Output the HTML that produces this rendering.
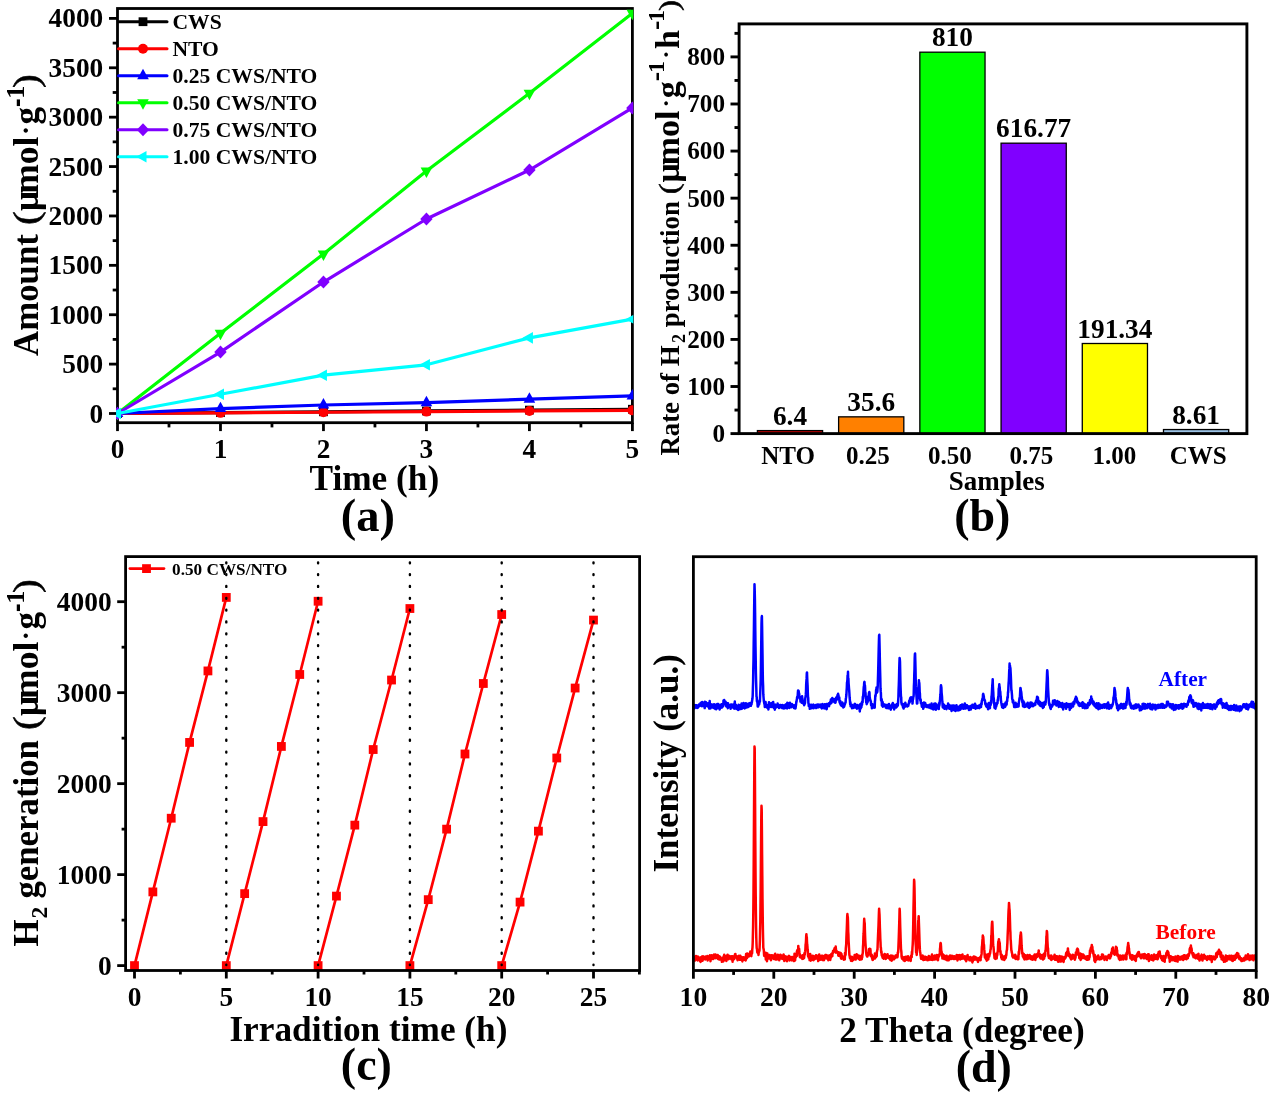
<!DOCTYPE html>
<html><head><meta charset="utf-8"><title>Figure</title>
<style>
html,body{margin:0;padding:0;background:#fff;}
svg{display:block;}
text{font-family:"Liberation Serif",serif;font-weight:bold;}
</style></head>
<body>
<svg width="1271" height="1098" viewBox="0 0 1271 1098">
<rect width="1271" height="1098" fill="#fff"/>
<clipPath id="ca"><rect x="116.1" y="7.5" width="517.2" height="416.2"/></clipPath>
<rect x="117.5" y="8.5" width="514.9" height="414.2" fill="none" stroke="#000" stroke-width="2.8"/>
<line x1="109" y1="413.5" x2="117.5" y2="413.5" stroke="#000" stroke-width="2.8" />
<text x="103.2" y="422.5" font-size="27.3" text-anchor="end" fill="#000" >0</text>
<line x1="112.7" y1="388.81" x2="117.5" y2="388.81" stroke="#000" stroke-width="2.8" />
<line x1="109" y1="364.11" x2="117.5" y2="364.11" stroke="#000" stroke-width="2.8" />
<text x="103.2" y="373.11" font-size="27.3" text-anchor="end" fill="#000" >500</text>
<line x1="112.7" y1="339.42" x2="117.5" y2="339.42" stroke="#000" stroke-width="2.8" />
<line x1="109" y1="314.73" x2="117.5" y2="314.73" stroke="#000" stroke-width="2.8" />
<text x="103.2" y="323.73" font-size="27.3" text-anchor="end" fill="#000" >1000</text>
<line x1="112.7" y1="290.03" x2="117.5" y2="290.03" stroke="#000" stroke-width="2.8" />
<line x1="109" y1="265.34" x2="117.5" y2="265.34" stroke="#000" stroke-width="2.8" />
<text x="103.2" y="274.34" font-size="27.3" text-anchor="end" fill="#000" >1500</text>
<line x1="112.7" y1="240.64" x2="117.5" y2="240.64" stroke="#000" stroke-width="2.8" />
<line x1="109" y1="215.95" x2="117.5" y2="215.95" stroke="#000" stroke-width="2.8" />
<text x="103.2" y="224.95" font-size="27.3" text-anchor="end" fill="#000" >2000</text>
<line x1="112.7" y1="191.26" x2="117.5" y2="191.26" stroke="#000" stroke-width="2.8" />
<line x1="109" y1="166.56" x2="117.5" y2="166.56" stroke="#000" stroke-width="2.8" />
<text x="103.2" y="175.56" font-size="27.3" text-anchor="end" fill="#000" >2500</text>
<line x1="112.7" y1="141.87" x2="117.5" y2="141.87" stroke="#000" stroke-width="2.8" />
<line x1="109" y1="117.18" x2="117.5" y2="117.18" stroke="#000" stroke-width="2.8" />
<text x="103.2" y="126.18" font-size="27.3" text-anchor="end" fill="#000" >3000</text>
<line x1="112.7" y1="92.48" x2="117.5" y2="92.48" stroke="#000" stroke-width="2.8" />
<line x1="109" y1="67.79" x2="117.5" y2="67.79" stroke="#000" stroke-width="2.8" />
<text x="103.2" y="76.79" font-size="27.3" text-anchor="end" fill="#000" >3500</text>
<line x1="112.7" y1="43.09" x2="117.5" y2="43.09" stroke="#000" stroke-width="2.8" />
<line x1="109" y1="18.4" x2="117.5" y2="18.4" stroke="#000" stroke-width="2.8" />
<text x="103.2" y="27.4" font-size="27.3" text-anchor="end" fill="#000" >4000</text>
<line x1="117.5" y1="422.7" x2="117.5" y2="431.1" stroke="#000" stroke-width="2.8" />
<text x="117.5" y="458.3" font-size="27.3" text-anchor="middle" fill="#000" >0</text>
<line x1="168.99" y1="422.7" x2="168.99" y2="427.4" stroke="#000" stroke-width="2.8" />
<line x1="220.48" y1="422.7" x2="220.48" y2="431.1" stroke="#000" stroke-width="2.8" />
<text x="220.48" y="458.3" font-size="27.3" text-anchor="middle" fill="#000" >1</text>
<line x1="271.97" y1="422.7" x2="271.97" y2="427.4" stroke="#000" stroke-width="2.8" />
<line x1="323.46" y1="422.7" x2="323.46" y2="431.1" stroke="#000" stroke-width="2.8" />
<text x="323.46" y="458.3" font-size="27.3" text-anchor="middle" fill="#000" >2</text>
<line x1="374.95" y1="422.7" x2="374.95" y2="427.4" stroke="#000" stroke-width="2.8" />
<line x1="426.44" y1="422.7" x2="426.44" y2="431.1" stroke="#000" stroke-width="2.8" />
<text x="426.44" y="458.3" font-size="27.3" text-anchor="middle" fill="#000" >3</text>
<line x1="477.93" y1="422.7" x2="477.93" y2="427.4" stroke="#000" stroke-width="2.8" />
<line x1="529.42" y1="422.7" x2="529.42" y2="431.1" stroke="#000" stroke-width="2.8" />
<text x="529.42" y="458.3" font-size="27.3" text-anchor="middle" fill="#000" >4</text>
<line x1="580.91" y1="422.7" x2="580.91" y2="427.4" stroke="#000" stroke-width="2.8" />
<line x1="632.4" y1="422.7" x2="632.4" y2="431.1" stroke="#000" stroke-width="2.8" />
<text x="632.4" y="458.3" font-size="27.3" text-anchor="middle" fill="#000" >5</text>
<g clip-path="url(#ca)">
<polyline points="117.5,413.5 220.48,412.65 323.46,411.8 426.44,410.95 529.42,410.1 632.4,409.25" fill="none" stroke="#000000" stroke-width="3.2" stroke-linejoin="round"/>
<rect x="113.1" y="409.1" width="8.8" height="8.8" fill="#000000"/>
<rect x="216.08" y="408.25" width="8.8" height="8.8" fill="#000000"/>
<rect x="319.06" y="407.4" width="8.8" height="8.8" fill="#000000"/>
<rect x="422.04" y="406.55" width="8.8" height="8.8" fill="#000000"/>
<rect x="525.02" y="405.7" width="8.8" height="8.8" fill="#000000"/>
<rect x="628" y="404.85" width="8.8" height="8.8" fill="#000000"/>
<polyline points="117.5,413.5 220.48,412.87 323.46,412.24 426.44,411.6 529.42,410.97 632.4,410.34" fill="none" stroke="#ff0000" stroke-width="3.2" stroke-linejoin="round"/>
<circle cx="117.5" cy="413.5" r="5" fill="#ff0000"/>
<circle cx="220.48" cy="412.87" r="5" fill="#ff0000"/>
<circle cx="323.46" cy="412.24" r="5" fill="#ff0000"/>
<circle cx="426.44" cy="411.6" r="5" fill="#ff0000"/>
<circle cx="529.42" cy="410.97" r="5" fill="#ff0000"/>
<circle cx="632.4" cy="410.34" r="5" fill="#ff0000"/>
<polyline points="117.5,413.5 220.48,408.56 323.46,405.01 426.44,402.63 529.42,399.18 632.4,395.92" fill="none" stroke="#0000ff" stroke-width="3.2" stroke-linejoin="round"/>
<polygon points="117.5,406.6 111.7,417 123.3,417" fill="#0000ff"/>
<polygon points="220.48,401.66 214.68,412.06 226.28,412.06" fill="#0000ff"/>
<polygon points="323.46,398.11 317.66,408.51 329.26,408.51" fill="#0000ff"/>
<polygon points="426.44,395.73 420.64,406.13 432.24,406.13" fill="#0000ff"/>
<polygon points="529.42,392.28 523.62,402.68 535.22,402.68" fill="#0000ff"/>
<polygon points="632.4,389.02 626.6,399.42 638.2,399.42" fill="#0000ff"/>
<polyline points="117.5,413.5 220.48,333.29 323.46,253.98 426.44,171.01 529.42,93.27 632.4,13.26" fill="none" stroke="#00ff00" stroke-width="3.2" stroke-linejoin="round"/>
<polygon points="117.5,420.4 111.7,410 123.3,410" fill="#00ff00"/>
<polygon points="220.48,340.19 214.68,329.79 226.28,329.79" fill="#00ff00"/>
<polygon points="323.46,260.88 317.66,250.48 329.26,250.48" fill="#00ff00"/>
<polygon points="426.44,177.91 420.64,167.51 432.24,167.51" fill="#00ff00"/>
<polygon points="529.42,100.17 523.62,89.77 535.22,89.77" fill="#00ff00"/>
<polygon points="632.4,20.16 626.6,9.76 638.2,9.76" fill="#00ff00"/>
<polyline points="117.5,413.5 220.48,352.06 323.46,282.03 426.44,219.01 529.42,170.02 632.4,107.99" fill="none" stroke="#8000ff" stroke-width="3.2" stroke-linejoin="round"/>
<polygon points="117.5,407 123.7,413.5 117.5,420 111.3,413.5" fill="#8000ff"/>
<polygon points="220.48,345.56 226.68,352.06 220.48,358.56 214.28,352.06" fill="#8000ff"/>
<polygon points="323.46,275.53 329.66,282.03 323.46,288.53 317.26,282.03" fill="#8000ff"/>
<polygon points="426.44,212.51 432.64,219.01 426.44,225.51 420.24,219.01" fill="#8000ff"/>
<polygon points="529.42,163.52 535.62,170.02 529.42,176.52 523.22,170.02" fill="#8000ff"/>
<polygon points="632.4,101.49 638.6,107.99 632.4,114.49 626.2,107.99" fill="#8000ff"/>
<polyline points="117.5,413.5 220.48,394.24 323.46,375.18 426.44,364.8 529.42,337.84 632.4,319.17" fill="none" stroke="#00ffff" stroke-width="3.2" stroke-linejoin="round"/>
<polygon points="110.6,413.5 121,407.7 121,419.3" fill="#00ffff"/>
<polygon points="213.58,394.24 223.98,388.44 223.98,400.04" fill="#00ffff"/>
<polygon points="316.56,375.18 326.96,369.38 326.96,380.98" fill="#00ffff"/>
<polygon points="419.54,364.8 429.94,359 429.94,370.6" fill="#00ffff"/>
<polygon points="522.52,337.84 532.92,332.04 532.92,343.64" fill="#00ffff"/>
<polygon points="625.5,319.17 635.9,313.37 635.9,324.97" fill="#00ffff"/>
</g>
<line x1="118.5" y1="21.7" x2="167" y2="21.7" stroke="#000000" stroke-width="3" stroke-linecap="round"/>
<rect x="138.6" y="17.3" width="8.8" height="8.8" fill="#000000"/>
<text x="172.5" y="29.3" font-size="21.6" text-anchor="start" fill="#000" >CWS</text>
<line x1="118.5" y1="48.72" x2="167" y2="48.72" stroke="#ff0000" stroke-width="3" stroke-linecap="round"/>
<circle cx="143" cy="48.72" r="5" fill="#ff0000"/>
<text x="172.5" y="55.62" font-size="21.6" text-anchor="start" fill="#000" >NTO</text>
<line x1="118.5" y1="75.74" x2="167" y2="75.74" stroke="#0000ff" stroke-width="3" stroke-linecap="round"/>
<polygon points="143,68.84 137.2,79.24 148.8,79.24" fill="#0000ff"/>
<text x="172.5" y="82.64" font-size="21.6" text-anchor="start" fill="#000" >0.25 CWS/NTO</text>
<line x1="118.5" y1="102.76" x2="167" y2="102.76" stroke="#00ff00" stroke-width="3" stroke-linecap="round"/>
<polygon points="143,109.66 137.2,99.26 148.8,99.26" fill="#00ff00"/>
<text x="172.5" y="109.66" font-size="21.6" text-anchor="start" fill="#000" >0.50 CWS/NTO</text>
<line x1="118.5" y1="129.78" x2="167" y2="129.78" stroke="#8000ff" stroke-width="3" stroke-linecap="round"/>
<polygon points="143,123.28 149.2,129.78 143,136.28 136.8,129.78" fill="#8000ff"/>
<text x="172.5" y="136.68" font-size="21.6" text-anchor="start" fill="#000" >0.75 CWS/NTO</text>
<line x1="118.5" y1="156.8" x2="167" y2="156.8" stroke="#00ffff" stroke-width="3" stroke-linecap="round"/>
<polygon points="136.1,156.8 146.5,151 146.5,162.6" fill="#00ffff"/>
<text x="172.5" y="163.7" font-size="21.6" text-anchor="start" fill="#000" >1.00 CWS/NTO</text>
<text x="309.5" y="490.3" font-size="35.3" text-anchor="start" fill="#000" >Time (h)</text>
<text x="340.8" y="530.6" font-size="46.5" text-anchor="start" fill="#000" >(a)</text>
<text transform="translate(38.1 355.95) rotate(-90) scale(1.0 1)" font-size="34.8" fill="#000" >Amount</text>
<text transform="translate(38.1 225) rotate(-90) scale(1.2 1)" font-size="34.8" fill="#000" style="font-weight:normal" stroke="#000" stroke-width="0.5">(</text>
<text transform="translate(38.1 210.95) rotate(-90) scale(1.0 1)" font-size="35.2" fill="#000" >&#956;</text>
<text transform="translate(38.1 193.8) rotate(-90) scale(1.0 1)" font-size="35.5" fill="#000" >mol</text>
<text transform="translate(35.13 135.09) rotate(-90)" font-size="26.99">&#183;</text>
<text transform="translate(38.1 124.5) rotate(-90) scale(1.0 1)" font-size="35" fill="#000" >g</text>
<text transform="translate(27 106.9) rotate(-90) scale(0.66 1)" font-size="38.8" fill="#000" >-</text>
<text transform="translate(24.1 98.7) rotate(-90) scale(1.0 1)" font-size="26" fill="#000" >1</text>
<text transform="translate(38.1 88) rotate(-90) scale(1.2 1)" font-size="34.8" fill="#000" style="font-weight:normal" stroke="#000" stroke-width="0.5">)</text>
<line x1="730.5" y1="433.6" x2="739.1" y2="433.6" stroke="#000" stroke-width="2.9" />
<text x="725" y="442" font-size="25.2" text-anchor="end" fill="#000" >0</text>
<line x1="734.5" y1="410.06" x2="739.1" y2="410.06" stroke="#000" stroke-width="2.9" />
<line x1="730.5" y1="386.51" x2="739.1" y2="386.51" stroke="#000" stroke-width="2.9" />
<text x="725" y="394.91" font-size="25.2" text-anchor="end" fill="#000" >100</text>
<line x1="734.5" y1="362.97" x2="739.1" y2="362.97" stroke="#000" stroke-width="2.9" />
<line x1="730.5" y1="339.43" x2="739.1" y2="339.43" stroke="#000" stroke-width="2.9" />
<text x="725" y="347.82" font-size="25.2" text-anchor="end" fill="#000" >200</text>
<line x1="734.5" y1="315.88" x2="739.1" y2="315.88" stroke="#000" stroke-width="2.9" />
<line x1="730.5" y1="292.34" x2="739.1" y2="292.34" stroke="#000" stroke-width="2.9" />
<text x="725" y="300.74" font-size="25.2" text-anchor="end" fill="#000" >300</text>
<line x1="734.5" y1="268.79" x2="739.1" y2="268.79" stroke="#000" stroke-width="2.9" />
<line x1="730.5" y1="245.25" x2="739.1" y2="245.25" stroke="#000" stroke-width="2.9" />
<text x="725" y="253.65" font-size="25.2" text-anchor="end" fill="#000" >400</text>
<line x1="734.5" y1="221.71" x2="739.1" y2="221.71" stroke="#000" stroke-width="2.9" />
<line x1="730.5" y1="198.16" x2="739.1" y2="198.16" stroke="#000" stroke-width="2.9" />
<text x="725" y="206.56" font-size="25.2" text-anchor="end" fill="#000" >500</text>
<line x1="734.5" y1="174.62" x2="739.1" y2="174.62" stroke="#000" stroke-width="2.9" />
<line x1="730.5" y1="151.07" x2="739.1" y2="151.07" stroke="#000" stroke-width="2.9" />
<text x="725" y="159.47" font-size="25.2" text-anchor="end" fill="#000" >600</text>
<line x1="734.5" y1="127.53" x2="739.1" y2="127.53" stroke="#000" stroke-width="2.9" />
<line x1="730.5" y1="103.99" x2="739.1" y2="103.99" stroke="#000" stroke-width="2.9" />
<text x="725" y="112.39" font-size="25.2" text-anchor="end" fill="#000" >700</text>
<line x1="734.5" y1="80.44" x2="739.1" y2="80.44" stroke="#000" stroke-width="2.9" />
<line x1="730.5" y1="56.9" x2="739.1" y2="56.9" stroke="#000" stroke-width="2.9" />
<text x="725" y="65.3" font-size="25.2" text-anchor="end" fill="#000" >800</text>
<line x1="734.5" y1="33.36" x2="739.1" y2="33.36" stroke="#000" stroke-width="2.9" />
<rect x="757.4" y="430.59" width="65.2" height="3.01" fill="#cc0000" stroke="#000" stroke-width="1.3"/>
<text x="790" y="424.59" font-size="27.3" text-anchor="middle" fill="#000" >6.4</text>
<text x="788.2" y="463.8" font-size="25.05" text-anchor="middle" fill="#000" >NTO</text>
<rect x="838.62" y="416.84" width="65.2" height="16.76" fill="#ff8000" stroke="#000" stroke-width="1.3"/>
<text x="871.22" y="410.84" font-size="27.3" text-anchor="middle" fill="#000" >35.6</text>
<text x="867.9" y="463.8" font-size="25.05" text-anchor="middle" fill="#000" >0.25</text>
<rect x="919.84" y="52.19" width="65.2" height="381.41" fill="#00ff00" stroke="#000" stroke-width="1.3"/>
<text x="952.44" y="46.19" font-size="27.3" text-anchor="middle" fill="#000" >810</text>
<text x="949.9" y="463.8" font-size="25.05" text-anchor="middle" fill="#000" >0.50</text>
<rect x="1001.06" y="143.18" width="65.2" height="290.42" fill="#8000ff" stroke="#000" stroke-width="1.3"/>
<text x="1033.66" y="137.18" font-size="27.3" text-anchor="middle" fill="#000" >616.77</text>
<text x="1031.3" y="463.8" font-size="25.05" text-anchor="middle" fill="#000" >0.75</text>
<rect x="1082.28" y="343.5" width="65.2" height="90.1" fill="#ffff00" stroke="#000" stroke-width="1.3"/>
<text x="1114.88" y="337.5" font-size="27.3" text-anchor="middle" fill="#000" >191.34</text>
<text x="1114.4" y="463.8" font-size="25.05" text-anchor="middle" fill="#000" >1.00</text>
<rect x="1163.5" y="429.55" width="65.2" height="4.05" fill="#9cc3e6" stroke="#000" stroke-width="1.3"/>
<text x="1196.1" y="423.55" font-size="27.3" text-anchor="middle" fill="#000" >8.61</text>
<text x="1198.2" y="463.8" font-size="25.05" text-anchor="middle" fill="#000" >CWS</text>
<rect x="739.1" y="23.9" width="507.8" height="409.7" fill="none" stroke="#000" stroke-width="2.9"/>
<text x="996.7" y="490.2" font-size="27" text-anchor="middle" fill="#000" >Samples</text>
<text x="982.3" y="531" font-size="46" text-anchor="middle" fill="#000" >(b)</text>
<text transform="translate(678.5 455.6) rotate(-90) scale(1.0 1)" font-size="26.8" fill="#000" >Rate of H</text>
<text transform="translate(684.9 343) rotate(-90) scale(1.0 1)" font-size="18" fill="#000" >2</text>
<text transform="translate(678.5 327.25) rotate(-90) scale(1.0 1)" font-size="26.8" fill="#000" >production</text>
<text transform="translate(678.3 194.2) rotate(-90) scale(1.23 1)" font-size="26.9" fill="#000" style="font-weight:normal" stroke="#000" stroke-width="0.5">(</text>
<text transform="translate(678.5 182.4) rotate(-90) scale(1.0 1)" font-size="34" fill="#000" >&#956;</text>
<text transform="translate(678.5 165.4) rotate(-90) scale(1.0 1)" font-size="34" fill="#000" >mol</text>
<text transform="translate(674.32 107.28) rotate(-90)" font-size="23.93">&#183;</text>
<text transform="translate(678.5 98.2) rotate(-90) scale(1.0 1)" font-size="34" fill="#000" >g</text>
<text transform="translate(665.45 81.2) rotate(-90) scale(0.94 1)" font-size="30" fill="#000" >-</text>
<text transform="translate(663.9 72.9) rotate(-90) scale(1.0 1)" font-size="24" fill="#000" >1</text>
<text transform="translate(674.32 58.58) rotate(-90)" font-size="23.93">&#183;</text>
<text transform="translate(678.5 48.95) rotate(-90) scale(1.0 1)" font-size="34" fill="#000" >h</text>
<text transform="translate(665.45 30.1) rotate(-90) scale(0.94 1)" font-size="30" fill="#000" >-</text>
<text transform="translate(663.9 21.9) rotate(-90) scale(1.0 1)" font-size="24" fill="#000" >1</text>
<text transform="translate(678.3 11.06) rotate(-90) scale(1.23 1)" font-size="26.9" fill="#000" style="font-weight:normal" stroke="#000" stroke-width="0.5">)</text>
<line x1="117.2" y1="965.6" x2="125.6" y2="965.6" stroke="#000" stroke-width="2.8" />
<text x="111.6" y="974.6" font-size="27.4" text-anchor="end" fill="#000" >0</text>
<line x1="121.6" y1="920.11" x2="125.6" y2="920.11" stroke="#000" stroke-width="2.8" />
<line x1="117.2" y1="874.62" x2="125.6" y2="874.62" stroke="#000" stroke-width="2.8" />
<text x="111.6" y="883.62" font-size="27.4" text-anchor="end" fill="#000" >1000</text>
<line x1="121.6" y1="829.14" x2="125.6" y2="829.14" stroke="#000" stroke-width="2.8" />
<line x1="117.2" y1="783.65" x2="125.6" y2="783.65" stroke="#000" stroke-width="2.8" />
<text x="111.6" y="792.65" font-size="27.4" text-anchor="end" fill="#000" >2000</text>
<line x1="121.6" y1="738.16" x2="125.6" y2="738.16" stroke="#000" stroke-width="2.8" />
<line x1="117.2" y1="692.67" x2="125.6" y2="692.67" stroke="#000" stroke-width="2.8" />
<text x="111.6" y="701.67" font-size="27.4" text-anchor="end" fill="#000" >3000</text>
<line x1="121.6" y1="647.19" x2="125.6" y2="647.19" stroke="#000" stroke-width="2.8" />
<line x1="117.2" y1="601.7" x2="125.6" y2="601.7" stroke="#000" stroke-width="2.8" />
<text x="111.6" y="610.7" font-size="27.4" text-anchor="end" fill="#000" >4000</text>
<line x1="134.5" y1="970.5" x2="134.5" y2="978.5" stroke="#000" stroke-width="2.8" />
<text x="134.5" y="1006" font-size="27.4" text-anchor="middle" fill="#000" >0</text>
<line x1="180.4" y1="970.5" x2="180.4" y2="974.5" stroke="#000" stroke-width="2.8" />
<line x1="226.3" y1="970.5" x2="226.3" y2="978.5" stroke="#000" stroke-width="2.8" />
<text x="226.3" y="1006" font-size="27.4" text-anchor="middle" fill="#000" >5</text>
<line x1="272.2" y1="970.5" x2="272.2" y2="974.5" stroke="#000" stroke-width="2.8" />
<line x1="318.1" y1="970.5" x2="318.1" y2="978.5" stroke="#000" stroke-width="2.8" />
<text x="318.1" y="1006" font-size="27.4" text-anchor="middle" fill="#000" >10</text>
<line x1="364" y1="970.5" x2="364" y2="974.5" stroke="#000" stroke-width="2.8" />
<line x1="409.9" y1="970.5" x2="409.9" y2="978.5" stroke="#000" stroke-width="2.8" />
<text x="409.9" y="1006" font-size="27.4" text-anchor="middle" fill="#000" >15</text>
<line x1="455.8" y1="970.5" x2="455.8" y2="974.5" stroke="#000" stroke-width="2.8" />
<line x1="501.7" y1="970.5" x2="501.7" y2="978.5" stroke="#000" stroke-width="2.8" />
<text x="501.7" y="1006" font-size="27.4" text-anchor="middle" fill="#000" >20</text>
<line x1="547.6" y1="970.5" x2="547.6" y2="974.5" stroke="#000" stroke-width="2.8" />
<line x1="593.5" y1="970.5" x2="593.5" y2="978.5" stroke="#000" stroke-width="2.8" />
<text x="593.5" y="1006" font-size="27.4" text-anchor="middle" fill="#000" >25</text>
<line x1="639.4" y1="970.5" x2="639.4" y2="974.5" stroke="#000" stroke-width="2.8" />
<polyline points="134.5,965.6 152.86,891.91 171.22,818.22 189.58,742.44 207.94,670.93 226.3,597.42" fill="none" stroke="#ff0000" stroke-width="2.7" stroke-linejoin="round"/>
<rect x="130.1" y="961.2" width="8.8" height="8.8" fill="#ff0000"/>
<rect x="148.46" y="887.51" width="8.8" height="8.8" fill="#ff0000"/>
<rect x="166.82" y="813.82" width="8.8" height="8.8" fill="#ff0000"/>
<rect x="185.18" y="738.04" width="8.8" height="8.8" fill="#ff0000"/>
<rect x="203.54" y="666.53" width="8.8" height="8.8" fill="#ff0000"/>
<rect x="221.9" y="593.02" width="8.8" height="8.8" fill="#ff0000"/>
<polyline points="226.3,965.6 244.66,893.64 263.02,821.59 281.38,746.44 299.74,674.48 318.1,601.25" fill="none" stroke="#ff0000" stroke-width="2.7" stroke-linejoin="round"/>
<rect x="221.9" y="961.2" width="8.8" height="8.8" fill="#ff0000"/>
<rect x="240.26" y="889.24" width="8.8" height="8.8" fill="#ff0000"/>
<rect x="258.62" y="817.19" width="8.8" height="8.8" fill="#ff0000"/>
<rect x="276.98" y="742.04" width="8.8" height="8.8" fill="#ff0000"/>
<rect x="295.34" y="670.08" width="8.8" height="8.8" fill="#ff0000"/>
<rect x="313.7" y="596.85" width="8.8" height="8.8" fill="#ff0000"/>
<polyline points="318.1,965.6 336.46,896.1 354.82,825.13 373.18,749.53 391.54,680.03 409.9,608.52" fill="none" stroke="#ff0000" stroke-width="2.7" stroke-linejoin="round"/>
<rect x="313.7" y="961.2" width="8.8" height="8.8" fill="#ff0000"/>
<rect x="332.06" y="891.7" width="8.8" height="8.8" fill="#ff0000"/>
<rect x="350.42" y="820.73" width="8.8" height="8.8" fill="#ff0000"/>
<rect x="368.78" y="745.13" width="8.8" height="8.8" fill="#ff0000"/>
<rect x="387.14" y="675.63" width="8.8" height="8.8" fill="#ff0000"/>
<rect x="405.5" y="604.12" width="8.8" height="8.8" fill="#ff0000"/>
<polyline points="409.9,965.6 428.26,899.64 446.62,829.14 464.98,753.99 483.34,683.49 501.7,614.53" fill="none" stroke="#ff0000" stroke-width="2.7" stroke-linejoin="round"/>
<rect x="405.5" y="961.2" width="8.8" height="8.8" fill="#ff0000"/>
<rect x="423.86" y="895.24" width="8.8" height="8.8" fill="#ff0000"/>
<rect x="442.22" y="824.74" width="8.8" height="8.8" fill="#ff0000"/>
<rect x="460.58" y="749.59" width="8.8" height="8.8" fill="#ff0000"/>
<rect x="478.94" y="679.09" width="8.8" height="8.8" fill="#ff0000"/>
<rect x="497.3" y="610.13" width="8.8" height="8.8" fill="#ff0000"/>
<polyline points="501.7,965.6 520.06,902.1 538.42,831.14 556.78,758 575.14,688.04 593.5,620.08" fill="none" stroke="#ff0000" stroke-width="2.7" stroke-linejoin="round"/>
<rect x="497.3" y="961.2" width="8.8" height="8.8" fill="#ff0000"/>
<rect x="515.66" y="897.7" width="8.8" height="8.8" fill="#ff0000"/>
<rect x="534.02" y="826.74" width="8.8" height="8.8" fill="#ff0000"/>
<rect x="552.38" y="753.6" width="8.8" height="8.8" fill="#ff0000"/>
<rect x="570.74" y="683.64" width="8.8" height="8.8" fill="#ff0000"/>
<rect x="589.1" y="615.68" width="8.8" height="8.8" fill="#ff0000"/>
<line x1="226.3" y1="965.1" x2="226.3" y2="556.6" stroke="#000" stroke-width="2.4" stroke-linecap="round" stroke-dasharray="0.9 10.933" stroke-dashoffset="0.45"/>
<line x1="318.1" y1="965.1" x2="318.1" y2="556.6" stroke="#000" stroke-width="2.4" stroke-linecap="round" stroke-dasharray="0.9 10.933" stroke-dashoffset="0.45"/>
<line x1="409.9" y1="965.1" x2="409.9" y2="556.6" stroke="#000" stroke-width="2.4" stroke-linecap="round" stroke-dasharray="0.9 10.933" stroke-dashoffset="0.45"/>
<line x1="501.7" y1="965.1" x2="501.7" y2="556.6" stroke="#000" stroke-width="2.4" stroke-linecap="round" stroke-dasharray="0.9 10.933" stroke-dashoffset="0.45"/>
<line x1="593.5" y1="965.1" x2="593.5" y2="556.6" stroke="#000" stroke-width="2.4" stroke-linecap="round" stroke-dasharray="0.9 10.933" stroke-dashoffset="0.45"/>
<line x1="129.9" y1="568.6" x2="164" y2="568.6" stroke="#ff0000" stroke-width="2.7" stroke-linecap="round"/>
<rect x="142.1" y="564.2" width="8.8" height="8.8" fill="#ff0000"/>
<text x="172.1" y="574.9" font-size="17.2" text-anchor="start" fill="#000" >0.50 CWS/NTO</text>
<rect x="125.6" y="556.6" width="514" height="413.9" fill="none" stroke="#000" stroke-width="2.8"/>
<text x="229.4" y="1041.2" font-size="35.25" text-anchor="start" fill="#000" >Irradition time (h)</text>
<text x="366.4" y="1080.2" font-size="46" text-anchor="middle" fill="#000" >(c)</text>
<text transform="translate(38.3 946.5) rotate(-90) scale(1.0 1)" font-size="34.8" fill="#000" >H</text>
<text transform="translate(47.2 918.6) rotate(-90) scale(1.0 1)" font-size="23.5" fill="#000" >2</text>
<text transform="translate(38.3 898.6) rotate(-90) scale(1.0 1)" font-size="34.8" fill="#000" >generation</text>
<text transform="translate(38.1 730.1) rotate(-90) scale(1.2 1)" font-size="34.8" fill="#000" style="font-weight:normal" stroke="#000" stroke-width="0.5">(</text>
<text transform="translate(38.1 716.05) rotate(-90) scale(1.0 1)" font-size="35.2" fill="#000" >&#956;</text>
<text transform="translate(38.1 698.9) rotate(-90) scale(1.0 1)" font-size="35.5" fill="#000" >mol</text>
<text transform="translate(35.13 640.19) rotate(-90)" font-size="26.99">&#183;</text>
<text transform="translate(38.1 629.6) rotate(-90) scale(1.0 1)" font-size="35" fill="#000" >g</text>
<text transform="translate(27 612) rotate(-90) scale(0.66 1)" font-size="38.8" fill="#000" >-</text>
<text transform="translate(24.1 603.8) rotate(-90) scale(1.0 1)" font-size="26" fill="#000" >1</text>
<text transform="translate(38.1 593.1) rotate(-90) scale(1.2 1)" font-size="34.8" fill="#000" style="font-weight:normal" stroke="#000" stroke-width="0.5">)</text>
<line x1="693.4" y1="970.5" x2="693.4" y2="978.7" stroke="#000" stroke-width="2.8" />
<text x="693.4" y="1006.3" font-size="27.6" text-anchor="middle" fill="#000" >10</text>
<line x1="733.6" y1="970.5" x2="733.6" y2="974.9" stroke="#000" stroke-width="2.8" />
<line x1="773.8" y1="970.5" x2="773.8" y2="978.7" stroke="#000" stroke-width="2.8" />
<text x="773.8" y="1006.3" font-size="27.6" text-anchor="middle" fill="#000" >20</text>
<line x1="814" y1="970.5" x2="814" y2="974.9" stroke="#000" stroke-width="2.8" />
<line x1="854.2" y1="970.5" x2="854.2" y2="978.7" stroke="#000" stroke-width="2.8" />
<text x="854.2" y="1006.3" font-size="27.6" text-anchor="middle" fill="#000" >30</text>
<line x1="894.4" y1="970.5" x2="894.4" y2="974.9" stroke="#000" stroke-width="2.8" />
<line x1="934.6" y1="970.5" x2="934.6" y2="978.7" stroke="#000" stroke-width="2.8" />
<text x="934.6" y="1006.3" font-size="27.6" text-anchor="middle" fill="#000" >40</text>
<line x1="974.8" y1="970.5" x2="974.8" y2="974.9" stroke="#000" stroke-width="2.8" />
<line x1="1015" y1="970.5" x2="1015" y2="978.7" stroke="#000" stroke-width="2.8" />
<text x="1015" y="1006.3" font-size="27.6" text-anchor="middle" fill="#000" >50</text>
<line x1="1055.2" y1="970.5" x2="1055.2" y2="974.9" stroke="#000" stroke-width="2.8" />
<line x1="1095.4" y1="970.5" x2="1095.4" y2="978.7" stroke="#000" stroke-width="2.8" />
<text x="1095.4" y="1006.3" font-size="27.6" text-anchor="middle" fill="#000" >60</text>
<line x1="1135.6" y1="970.5" x2="1135.6" y2="974.9" stroke="#000" stroke-width="2.8" />
<line x1="1175.8" y1="970.5" x2="1175.8" y2="978.7" stroke="#000" stroke-width="2.8" />
<text x="1175.8" y="1006.3" font-size="27.6" text-anchor="middle" fill="#000" >70</text>
<line x1="1216" y1="970.5" x2="1216" y2="974.9" stroke="#000" stroke-width="2.8" />
<line x1="1256.2" y1="970.5" x2="1256.2" y2="978.7" stroke="#000" stroke-width="2.8" />
<text x="1256.2" y="1006.3" font-size="27.6" text-anchor="middle" fill="#000" >80</text>
<clipPath id="cd"><rect x="693.4" y="556.7" width="562.8" height="413.8"/></clipPath>
<g clip-path="url(#cd)">
<polyline points="693.4,706.2 693.6,707.2 693.8,706.8 694.0,705.2 694.2,708.6 694.4,706.1 694.6,705.1 694.8,706.8 695.0,706.4 695.2,707.7 695.4,706.0 695.6,706.3 695.8,705.2 696.0,705.7 696.2,705.4 696.4,706.8 696.6,706.9 696.8,706.7 697.0,706.4 697.2,708.0 697.4,705.4 697.6,705.8 697.8,707.7 698.0,707.3 698.2,706.6 698.4,705.8 698.6,706.4 698.8,705.6 699.0,704.4 699.2,706.3 699.4,704.6 699.6,705.5 699.8,704.2 700.0,704.6 700.2,705.7 700.4,705.7 700.6,703.1 700.8,703.6 701.0,703.9 701.2,703.9 701.4,705.1 701.6,702.2 701.8,703.5 702.0,706.3 702.2,702.0 702.4,703.4 702.6,705.7 702.8,704.0 703.0,703.5 703.2,702.6 703.4,703.6 703.7,704.9 703.9,706.2 704.1,704.2 704.3,706.1 704.5,703.9 704.7,708.1 704.9,701.7 705.1,705.9 705.3,704.5 705.5,703.6 705.7,702.4 705.9,702.0 706.1,705.4 706.3,702.7 706.5,704.2 706.7,706.0 706.9,705.9 707.1,705.6 707.3,704.9 707.5,705.0 707.7,703.9 707.9,705.5 708.1,703.3 708.3,705.5 708.5,707.1 708.7,705.1 708.9,704.7 709.1,708.5 709.3,704.8 709.5,705.1 709.7,701.0 709.9,704.7 710.1,708.5 710.3,707.7 710.5,708.4 710.7,704.1 710.9,707.1 711.1,704.6 711.3,707.0 711.5,706.7 711.7,707.0 711.9,704.9 712.1,705.6 712.3,706.9 712.5,707.4 712.7,705.0 712.9,704.6 713.1,705.1 713.3,705.5 713.5,707.2 713.7,708.1 713.9,705.9 714.1,704.2 714.3,705.4 714.5,707.0 714.7,705.3 714.9,704.7 715.1,705.0 715.3,709.0 715.5,707.0 715.7,706.8 715.9,704.9 716.1,708.2 716.3,709.3 716.5,705.3 716.7,705.9 716.9,704.8 717.1,707.5 717.3,704.1 717.5,706.4 717.7,706.1 717.9,706.5 718.1,708.0 718.3,704.1 718.5,706.2 718.7,706.2 718.9,707.1 719.1,705.9 719.3,707.4 719.5,707.9 719.7,709.5 719.9,707.1 720.1,706.2 720.3,706.0 720.5,706.9 720.7,704.8 720.9,707.5 721.1,707.6 721.3,704.7 721.5,706.3 721.7,706.5 721.9,704.2 722.1,707.4 722.3,704.0 722.5,706.4 722.7,704.8 722.9,704.8 723.1,706.3 723.3,705.4 723.5,700.6 723.8,703.1 724.0,703.3 724.2,700.1 724.4,703.5 724.6,701.7 724.8,703.5 725.0,703.0 725.2,703.6 725.4,704.2 725.6,701.8 725.8,703.4 726.0,704.8 726.2,706.4 726.4,705.3 726.6,705.1 726.8,703.4 727.0,703.2 727.2,706.9 727.4,707.1 727.6,704.6 727.8,708.2 728.0,703.2 728.2,706.0 728.4,706.2 728.6,706.5 728.8,706.4 729.0,706.3 729.2,704.9 729.4,707.1 729.6,707.0 729.8,707.1 730.0,707.2 730.2,704.9 730.4,705.2 730.6,708.8 730.8,706.1 731.0,704.4 731.2,706.4 731.4,706.4 731.6,705.2 731.8,707.3 732.0,704.8 732.2,704.8 732.4,704.8 732.6,705.1 732.8,706.4 733.0,705.3 733.2,706.6 733.4,704.5 733.6,707.8 733.8,707.8 734.0,707.0 734.2,708.7 734.4,706.8 734.6,703.5 734.8,701.5 735.0,706.6 735.2,703.9 735.4,705.5 735.6,707.3 735.8,706.7 736.0,705.1 736.2,706.0 736.4,709.0 736.6,706.4 736.8,706.6 737.0,706.8 737.2,706.3 737.4,706.5 737.6,707.4 737.8,707.3 738.0,706.1 738.2,710.0 738.4,706.8 738.6,704.8 738.8,705.8 739.0,705.1 739.2,706.8 739.4,706.8 739.6,709.2 739.8,705.3 740.0,708.0 740.2,705.8 740.4,706.6 740.6,707.8 740.8,709.0 741.0,707.5 741.2,707.6 741.4,706.6 741.6,703.4 741.8,708.7 742.0,707.6 742.2,707.7 742.4,708.3 742.6,707.5 742.8,706.6 743.0,704.9 743.2,705.9 743.4,707.6 743.6,702.9 743.9,707.3 744.1,707.8 744.3,706.8 744.5,706.2 744.7,708.5 744.9,706.3 745.1,707.9 745.3,705.0 745.5,706.0 745.7,705.9 745.9,703.3 746.1,707.0 746.3,706.6 746.5,706.0 746.7,706.4 746.9,707.4 747.1,704.8 747.3,704.2 747.5,704.0 747.7,705.7 747.9,705.7 748.1,705.8 748.3,704.7 748.5,707.0 748.7,703.5 748.9,705.4 749.1,705.1 749.3,703.4 749.5,703.7 749.7,705.8 749.9,705.1 750.1,703.1 750.3,703.8 750.5,704.4 750.7,705.0 750.9,705.8 751.1,704.1 751.3,704.0 751.5,704.4 751.7,702.4 751.9,702.4 752.1,700.7 752.3,699.6 752.5,698.3 752.7,695.5 752.9,688.2 753.1,681.7 753.3,668.8 753.5,660.2 753.7,643.1 753.9,629.5 754.1,612.5 754.3,597.6 754.5,584.3 754.7,590.2 754.9,598.8 755.1,612.9 755.3,631.5 755.5,647.1 755.7,659.8 755.9,673.4 756.1,681.1 756.3,687.8 756.5,696.6 756.7,696.9 756.9,701.1 757.1,701.7 757.3,701.3 757.5,703.5 757.7,706.4 757.9,701.9 758.1,706.6 758.3,703.2 758.5,701.9 758.7,703.1 758.9,704.1 759.1,704.4 759.3,703.5 759.5,700.4 759.7,700.7 759.9,701.7 760.1,696.2 760.3,691.2 760.5,686.2 760.7,679.7 760.9,668.1 761.1,653.8 761.3,639.6 761.5,623.8 761.7,617.5 761.9,616.1 762.1,626.5 762.3,640.8 762.5,654.3 762.7,670.5 762.9,681.0 763.1,685.6 763.3,694.2 763.5,697.0 763.8,700.5 764.0,701.8 764.2,702.8 764.4,704.0 764.6,703.4 764.8,706.9 765.0,703.0 765.2,702.3 765.4,705.1 765.6,702.1 765.8,705.2 766.0,704.3 766.2,705.3 766.4,705.2 766.6,707.5 766.8,706.0 767.0,707.0 767.2,707.0 767.4,707.4 767.6,705.3 767.8,705.5 768.0,706.5 768.2,704.9 768.4,709.5 768.6,704.9 768.8,704.1 769.0,702.2 769.2,705.1 769.4,704.1 769.6,706.2 769.8,704.7 770.0,707.1 770.2,705.4 770.4,704.7 770.6,703.4 770.8,706.2 771.0,704.7 771.2,703.5 771.4,704.1 771.6,707.0 771.8,702.9 772.0,706.2 772.2,707.0 772.4,706.1 772.6,704.7 772.8,707.0 773.0,706.2 773.2,702.0 773.4,707.0 773.6,705.8 773.8,704.4 774.0,708.0 774.2,705.5 774.4,705.3 774.6,707.3 774.8,709.7 775.0,704.9 775.2,704.5 775.4,706.0 775.6,707.9 775.8,705.2 776.0,706.4 776.2,705.8 776.4,706.3 776.6,706.6 776.8,707.0 777.0,705.9 777.2,706.4 777.4,706.3 777.6,703.5 777.8,704.7 778.0,705.1 778.2,705.5 778.4,704.6 778.6,705.2 778.8,705.6 779.0,708.1 779.2,706.1 779.4,707.2 779.6,707.0 779.8,705.6 780.0,706.7 780.2,706.7 780.4,704.9 780.6,705.0 780.8,705.1 781.0,705.5 781.2,707.6 781.4,706.8 781.6,707.4 781.8,706.7 782.0,705.7 782.2,708.2 782.4,705.0 782.6,707.6 782.8,705.5 783.0,705.4 783.2,705.7 783.4,706.6 783.6,706.3 783.9,708.6 784.1,705.4 784.3,706.1 784.5,705.3 784.7,706.5 784.9,707.9 785.1,706.0 785.3,704.7 785.5,705.4 785.7,706.6 785.9,708.0 786.1,704.3 786.3,707.0 786.5,704.9 786.7,704.3 786.9,705.9 787.1,708.4 787.3,702.7 787.5,706.5 787.7,705.2 787.9,707.0 788.1,703.5 788.3,705.2 788.5,703.4 788.7,703.5 788.9,706.4 789.1,706.5 789.3,707.9 789.5,707.2 789.7,703.6 789.9,702.7 790.1,703.7 790.3,706.2 790.5,705.7 790.7,705.2 790.9,705.3 791.1,706.1 791.3,707.2 791.5,704.3 791.7,705.7 791.9,704.0 792.1,704.3 792.3,705.8 792.5,705.7 792.7,706.2 792.9,706.1 793.1,706.5 793.3,706.0 793.5,705.4 793.7,707.3 793.9,708.0 794.1,705.9 794.3,708.2 794.5,705.2 794.7,707.4 794.9,706.5 795.1,705.1 795.3,705.5 795.5,708.4 795.7,706.8 795.9,705.5 796.1,704.0 796.3,701.7 796.5,701.9 796.7,699.9 796.9,699.7 797.1,697.1 797.3,696.6 797.5,697.2 797.7,696.6 797.9,692.3 798.1,690.4 798.3,693.7 798.5,690.8 798.7,691.3 798.9,693.3 799.1,693.2 799.3,695.0 799.5,697.9 799.7,696.8 799.9,698.9 800.1,698.6 800.3,698.5 800.5,701.6 800.7,700.4 800.9,698.0 801.1,701.4 801.3,701.7 801.5,700.3 801.7,702.8 801.9,697.5 802.1,696.3 802.3,698.5 802.5,700.0 802.7,700.5 802.9,700.2 803.1,703.3 803.3,700.8 803.5,700.5 803.7,703.1 804.0,701.7 804.2,705.2 804.4,702.1 804.6,704.5 804.8,702.0 805.0,703.2 805.2,699.4 805.4,697.3 805.6,696.6 805.8,694.4 806.0,691.3 806.2,683.8 806.4,681.0 806.6,678.4 806.8,673.2 807.0,672.4 807.2,678.1 807.4,682.3 807.6,685.7 807.8,692.2 808.0,696.8 808.2,697.8 808.4,703.1 808.6,703.5 808.8,706.1 809.0,705.4 809.2,706.4 809.4,706.6 809.6,705.6 809.8,708.8 810.0,704.9 810.2,704.8 810.4,706.6 810.6,708.1 810.8,708.4 811.0,706.4 811.2,706.8 811.4,706.5 811.6,704.7 811.8,705.5 812.0,707.7 812.2,707.9 812.4,705.9 812.6,706.3 812.8,707.9 813.0,705.0 813.2,705.2 813.4,705.5 813.6,704.6 813.8,708.2 814.0,705.5 814.2,705.4 814.4,706.1 814.6,706.2 814.8,706.3 815.0,705.9 815.2,706.2 815.4,706.8 815.6,705.8 815.8,706.3 816.0,705.0 816.2,708.1 816.4,704.9 816.6,706.4 816.8,705.7 817.0,705.7 817.2,706.5 817.4,705.8 817.6,706.6 817.8,704.6 818.0,707.5 818.2,707.0 818.4,704.7 818.6,705.0 818.8,705.3 819.0,704.8 819.2,705.6 819.4,704.8 819.6,705.0 819.8,706.2 820.0,706.7 820.2,705.7 820.4,707.3 820.6,705.9 820.8,705.1 821.0,704.5 821.2,707.5 821.4,705.9 821.6,706.8 821.8,708.4 822.0,706.4 822.2,705.1 822.4,704.6 822.6,704.1 822.8,706.3 823.0,705.7 823.2,706.0 823.4,706.4 823.6,705.0 823.8,706.6 824.0,707.4 824.3,708.4 824.5,705.6 824.7,704.3 824.9,705.7 825.1,707.1 825.3,705.2 825.5,706.0 825.7,705.8 825.9,707.3 826.1,706.3 826.3,708.9 826.5,704.1 826.7,709.2 826.9,706.9 827.1,706.5 827.3,705.6 827.5,705.4 827.7,704.4 827.9,704.9 828.1,704.8 828.3,703.7 828.5,704.6 828.7,703.9 828.9,703.2 829.1,706.2 829.3,704.5 829.5,703.3 829.7,703.1 829.9,702.6 830.1,703.8 830.3,701.8 830.5,702.0 830.7,702.8 830.9,699.4 831.1,699.6 831.3,703.2 831.5,699.5 831.7,701.2 831.9,701.7 832.1,699.6 832.3,697.9 832.5,701.1 832.7,700.4 832.9,699.0 833.1,699.2 833.3,700.5 833.5,699.6 833.7,701.6 833.9,700.6 834.1,700.1 834.3,700.9 834.5,701.8 834.7,702.4 834.9,701.4 835.1,698.9 835.3,699.0 835.5,702.7 835.7,700.7 835.9,698.0 836.1,699.3 836.3,698.2 836.5,700.2 836.7,697.0 836.9,696.8 837.1,697.3 837.3,696.6 837.5,695.1 837.7,695.1 837.9,697.7 838.1,693.8 838.3,696.8 838.5,695.3 838.7,698.7 838.9,699.0 839.1,699.8 839.3,697.5 839.5,702.0 839.7,701.2 839.9,703.0 840.1,703.7 840.3,701.0 840.5,703.4 840.7,702.7 840.9,705.3 841.1,704.0 841.3,705.6 841.5,705.6 841.7,706.0 841.9,703.6 842.1,704.1 842.3,702.5 842.5,704.7 842.7,704.5 842.9,705.4 843.1,704.3 843.3,707.5 843.5,703.8 843.7,706.9 843.9,705.2 844.1,706.7 844.4,705.6 844.6,704.1 844.8,704.6 845.0,703.8 845.2,703.1 845.4,702.9 845.6,702.4 845.8,698.8 846.0,697.9 846.2,696.4 846.4,694.7 846.6,690.7 846.8,688.1 847.0,682.5 847.2,681.8 847.4,680.0 847.6,675.4 847.8,676.3 848.0,671.8 848.2,679.5 848.4,678.3 848.6,683.3 848.8,685.6 849.0,688.6 849.2,690.4 849.4,693.5 849.6,697.2 849.8,699.3 850.0,701.6 850.2,704.5 850.4,702.2 850.6,706.3 850.8,704.7 851.0,705.3 851.2,706.2 851.4,705.6 851.6,706.1 851.8,705.1 852.0,708.2 852.2,705.0 852.4,705.7 852.6,707.1 852.8,705.6 853.0,707.2 853.2,708.0 853.4,707.2 853.6,705.9 853.8,705.3 854.0,706.1 854.2,705.7 854.4,707.6 854.6,704.0 854.8,704.8 855.0,703.9 855.2,705.3 855.4,705.4 855.6,707.6 855.8,704.8 856.0,707.0 856.2,705.4 856.4,706.5 856.6,707.5 856.8,707.3 857.0,708.7 857.2,708.1 857.4,706.9 857.6,704.9 857.8,708.0 858.0,707.9 858.2,706.1 858.4,707.9 858.6,706.9 858.8,708.0 859.0,708.1 859.2,707.3 859.4,706.6 859.6,708.6 859.8,711.4 860.0,706.0 860.2,704.2 860.4,707.1 860.6,708.5 860.8,707.4 861.0,707.8 861.2,706.0 861.4,707.1 861.6,702.8 861.8,704.6 862.0,705.0 862.2,701.7 862.4,701.5 862.6,702.4 862.8,696.7 863.0,698.7 863.2,695.8 863.4,693.0 863.6,689.2 863.8,686.5 864.0,686.4 864.2,682.6 864.5,681.8 864.7,687.2 864.9,685.2 865.1,687.7 865.3,693.5 865.5,692.5 865.7,696.5 865.9,697.6 866.1,701.0 866.3,702.8 866.5,701.6 866.7,704.2 866.9,702.4 867.1,703.2 867.3,701.5 867.5,701.4 867.7,701.9 867.9,698.4 868.1,697.0 868.3,696.5 868.5,695.7 868.7,696.0 868.9,693.3 869.1,692.8 869.3,692.0 869.5,692.8 869.7,697.7 869.9,698.0 870.1,700.5 870.3,699.8 870.5,700.7 870.7,701.4 870.9,701.6 871.1,705.2 871.3,704.6 871.5,705.9 871.7,705.2 871.9,708.2 872.1,707.1 872.3,704.3 872.5,705.2 872.7,704.5 872.9,707.2 873.1,707.7 873.3,705.2 873.5,705.3 873.7,705.4 873.9,707.2 874.1,705.5 874.3,704.4 874.5,705.5 874.7,707.7 874.9,701.6 875.1,700.0 875.3,695.5 875.5,696.4 875.7,694.5 875.9,694.0 876.1,689.7 876.3,691.9 876.5,687.6 876.7,693.0 876.9,690.3 877.1,691.3 877.3,691.9 877.5,689.2 877.7,687.0 877.9,680.2 878.1,674.0 878.3,666.2 878.5,657.9 878.7,649.0 878.9,641.5 879.1,635.4 879.3,634.8 879.5,643.1 879.7,652.1 879.9,662.1 880.1,670.9 880.3,678.1 880.5,688.4 880.7,691.2 880.9,693.2 881.1,700.4 881.3,698.8 881.5,701.4 881.7,699.2 881.9,705.4 882.1,703.2 882.3,703.3 882.5,701.8 882.7,702.6 882.9,706.7 883.1,704.9 883.3,704.9 883.5,704.4 883.7,706.2 883.9,704.3 884.1,705.4 884.4,705.2 884.6,704.8 884.8,704.8 885.0,706.0 885.2,705.0 885.4,704.9 885.6,705.9 885.8,707.5 886.0,705.7 886.2,705.9 886.4,708.1 886.6,705.0 886.8,705.7 887.0,707.8 887.2,705.3 887.4,707.3 887.6,706.8 887.8,705.9 888.0,708.2 888.2,707.8 888.4,704.8 888.6,704.3 888.8,707.3 889.0,704.1 889.2,708.2 889.4,705.2 889.6,705.2 889.8,707.2 890.0,706.4 890.2,706.9 890.4,706.0 890.6,707.4 890.8,709.7 891.0,706.4 891.2,707.5 891.4,707.4 891.6,705.8 891.8,705.4 892.0,706.7 892.2,704.2 892.4,707.5 892.6,705.5 892.8,703.0 893.0,707.6 893.2,705.1 893.4,707.3 893.6,704.5 893.8,706.4 894.0,706.0 894.2,709.5 894.4,706.9 894.6,705.6 894.8,705.5 895.0,705.1 895.2,705.4 895.4,705.4 895.6,707.4 895.8,705.5 896.0,707.5 896.2,707.3 896.4,706.4 896.6,707.1 896.8,703.9 897.0,706.5 897.2,704.4 897.4,703.7 897.6,704.1 897.8,705.7 898.0,703.4 898.2,700.2 898.4,697.3 898.6,689.5 898.8,685.0 899.0,678.9 899.2,669.5 899.4,663.0 899.6,658.1 899.8,659.0 900.0,661.8 900.2,671.7 900.4,681.0 900.6,687.9 900.8,693.3 901.0,697.0 901.2,697.1 901.4,703.0 901.6,703.0 901.8,704.5 902.0,703.9 902.2,703.9 902.4,704.2 902.6,703.9 902.8,706.1 903.0,707.4 903.2,706.7 903.4,707.4 903.6,708.5 903.8,707.0 904.0,704.6 904.2,704.1 904.5,704.4 904.7,704.5 904.9,706.4 905.1,706.6 905.3,702.7 905.5,703.6 905.7,706.1 905.9,706.0 906.1,706.0 906.3,705.6 906.5,705.9 906.7,706.0 906.9,704.9 907.1,705.2 907.3,706.6 907.5,704.8 907.7,704.8 907.9,704.9 908.1,704.6 908.3,705.8 908.5,704.1 908.7,703.9 908.9,703.7 909.1,701.9 909.3,700.6 909.5,702.7 909.7,701.2 909.9,701.8 910.1,698.3 910.3,699.2 910.5,698.9 910.7,697.4 910.9,697.8 911.1,697.2 911.3,699.7 911.5,697.6 911.7,699.8 911.9,699.0 912.1,701.8 912.3,699.8 912.5,703.6 912.7,701.4 912.9,699.2 913.1,699.3 913.3,696.7 913.5,696.8 913.7,694.8 913.9,686.1 914.1,682.2 914.3,674.1 914.5,668.8 914.7,658.2 914.9,654.0 915.1,653.5 915.3,660.8 915.5,668.4 915.7,679.6 915.9,686.4 916.1,689.3 916.3,693.9 916.5,696.4 916.7,699.7 916.9,703.4 917.1,701.1 917.3,703.5 917.5,698.4 917.7,698.3 917.9,698.4 918.1,694.4 918.3,691.2 918.5,687.7 918.7,685.3 918.9,680.3 919.1,683.6 919.3,682.7 919.5,686.8 919.7,692.2 919.9,693.4 920.1,699.0 920.3,700.1 920.5,700.9 920.7,699.5 920.9,703.1 921.1,703.7 921.3,703.7 921.5,703.4 921.7,705.4 921.9,706.7 922.1,705.3 922.3,704.7 922.5,703.3 922.7,706.0 922.9,704.2 923.1,705.9 923.3,708.8 923.5,705.2 923.7,706.8 923.9,702.4 924.1,705.5 924.3,706.8 924.5,705.2 924.8,703.4 925.0,705.1 925.2,703.0 925.4,705.6 925.6,705.6 925.8,705.5 926.0,705.3 926.2,706.6 926.4,705.7 926.6,704.9 926.8,707.1 927.0,705.3 927.2,706.0 927.4,706.7 927.6,706.9 927.8,706.4 928.0,706.6 928.2,705.6 928.4,707.4 928.6,706.9 928.8,706.7 929.0,705.0 929.2,704.9 929.4,706.6 929.6,707.0 929.8,706.6 930.0,704.9 930.2,707.9 930.4,705.7 930.6,706.6 930.8,706.9 931.0,706.5 931.2,707.6 931.4,708.6 931.6,703.6 931.8,706.7 932.0,708.2 932.2,707.2 932.4,704.8 932.6,707.5 932.8,706.5 933.0,709.3 933.2,707.2 933.4,709.1 933.6,709.3 933.8,707.7 934.0,707.8 934.2,703.7 934.4,706.3 934.6,704.7 934.8,708.9 935.0,707.5 935.2,705.7 935.4,703.6 935.6,706.8 935.8,703.9 936.0,709.7 936.2,706.4 936.4,706.4 936.6,707.4 936.8,708.3 937.0,707.4 937.2,707.3 937.4,705.4 937.6,706.0 937.8,707.0 938.0,708.1 938.2,707.7 938.4,705.2 938.6,704.2 938.8,709.0 939.0,703.3 939.2,706.0 939.4,705.1 939.6,703.8 939.8,701.0 940.0,700.5 940.2,696.8 940.4,695.0 940.6,692.5 940.8,686.7 941.0,685.3 941.2,686.5 941.4,687.7 941.6,692.5 941.8,694.5 942.0,696.6 942.2,700.6 942.4,701.6 942.6,705.5 942.8,707.4 943.0,706.0 943.2,707.5 943.4,706.8 943.6,707.2 943.8,705.2 944.0,704.6 944.2,707.9 944.4,708.7 944.7,708.3 944.9,706.6 945.1,706.8 945.3,707.6 945.5,706.7 945.7,708.5 945.9,706.0 946.1,708.3 946.3,706.4 946.5,709.2 946.7,706.6 946.9,706.8 947.1,707.1 947.3,706.4 947.5,706.9 947.7,707.5 947.9,706.8 948.1,703.6 948.3,706.2 948.5,704.3 948.7,707.2 948.9,705.7 949.1,705.0 949.3,708.8 949.5,706.4 949.7,707.2 949.9,708.7 950.1,705.5 950.3,707.5 950.5,708.7 950.7,705.9 950.9,707.9 951.1,706.6 951.3,708.8 951.5,711.0 951.7,709.5 951.9,707.3 952.1,705.6 952.3,709.3 952.5,706.7 952.7,708.1 952.9,709.2 953.1,708.8 953.3,706.0 953.5,705.5 953.7,707.4 953.9,710.2 954.1,706.9 954.3,710.2 954.5,709.7 954.7,705.8 954.9,708.7 955.1,708.0 955.3,709.0 955.5,711.1 955.7,706.1 955.9,708.3 956.1,706.2 956.3,708.8 956.5,705.2 956.7,707.3 956.9,708.7 957.1,709.0 957.3,710.0 957.5,706.9 957.7,708.0 957.9,710.5 958.1,709.5 958.3,707.1 958.5,708.4 958.7,707.0 958.9,707.3 959.1,710.2 959.3,707.0 959.5,707.4 959.7,709.7 959.9,706.0 960.1,707.9 960.3,709.8 960.5,705.2 960.7,708.5 960.9,707.8 961.1,707.1 961.3,706.7 961.5,708.6 961.7,707.7 961.9,705.7 962.1,704.4 962.3,706.1 962.5,706.5 962.7,708.3 962.9,706.1 963.1,708.1 963.3,708.7 963.5,705.6 963.7,704.7 963.9,705.9 964.1,705.2 964.3,706.9 964.5,706.2 964.8,703.6 965.0,708.6 965.2,706.6 965.4,706.3 965.6,705.6 965.8,708.5 966.0,705.4 966.2,705.1 966.4,705.9 966.6,705.7 966.8,706.6 967.0,705.2 967.2,706.3 967.4,708.0 967.6,707.0 967.8,708.1 968.0,708.2 968.2,708.4 968.4,706.4 968.6,707.3 968.8,707.7 969.0,710.1 969.2,707.0 969.4,706.9 969.6,708.9 969.8,706.3 970.0,708.8 970.2,708.9 970.4,708.4 970.6,706.1 970.8,709.5 971.0,707.7 971.2,705.8 971.4,706.4 971.6,706.3 971.8,707.3 972.0,706.0 972.2,706.0 972.4,704.8 972.6,706.5 972.8,707.6 973.0,705.8 973.2,707.8 973.4,705.4 973.6,707.7 973.8,705.0 974.0,706.9 974.2,707.7 974.4,706.6 974.6,707.5 974.8,705.4 975.0,703.7 975.2,707.0 975.4,707.6 975.6,708.7 975.8,707.1 976.0,705.8 976.2,705.5 976.4,706.0 976.6,706.0 976.8,705.7 977.0,707.3 977.2,708.1 977.4,706.8 977.6,707.3 977.8,707.6 978.0,707.5 978.2,707.0 978.4,706.0 978.6,707.8 978.8,706.3 979.0,705.5 979.2,708.2 979.4,706.4 979.6,707.2 979.8,707.7 980.0,705.4 980.2,704.9 980.4,705.8 980.6,705.7 980.8,704.7 981.0,707.1 981.2,703.5 981.4,704.6 981.6,704.4 981.8,701.0 982.0,700.3 982.2,700.1 982.4,698.8 982.6,699.6 982.8,698.8 983.0,694.4 983.2,693.9 983.4,694.5 983.6,696.1 983.8,696.1 984.0,699.0 984.2,699.1 984.4,699.4 984.6,700.7 984.9,700.4 985.1,702.3 985.3,704.2 985.5,702.9 985.7,704.9 985.9,705.1 986.1,706.1 986.3,705.5 986.5,706.7 986.7,704.7 986.9,706.0 987.1,704.6 987.3,704.7 987.5,706.4 987.7,705.1 987.9,708.5 988.1,709.2 988.3,705.0 988.5,707.8 988.7,703.1 988.9,708.3 989.1,704.3 989.3,706.1 989.5,706.9 989.7,705.2 989.9,708.2 990.1,704.0 990.3,705.3 990.5,705.1 990.7,704.9 990.9,701.7 991.1,700.7 991.3,703.0 991.5,696.3 991.7,695.7 991.9,692.2 992.1,688.6 992.3,685.1 992.5,683.0 992.7,679.2 992.9,686.0 993.1,689.8 993.3,692.3 993.5,698.0 993.7,697.8 993.9,700.0 994.1,703.9 994.3,704.3 994.5,707.7 994.7,702.9 994.9,704.6 995.1,704.7 995.3,707.0 995.5,708.7 995.7,705.2 995.9,704.8 996.1,706.8 996.3,705.9 996.5,704.4 996.7,704.8 996.9,703.7 997.1,702.9 997.3,702.6 997.5,703.2 997.7,699.8 997.9,700.8 998.1,697.9 998.3,696.4 998.5,696.4 998.7,688.6 998.9,690.1 999.1,686.9 999.3,684.3 999.5,686.5 999.7,687.1 999.9,690.6 1000.1,691.2 1000.3,691.8 1000.5,695.8 1000.7,696.1 1000.9,699.8 1001.1,701.4 1001.3,702.8 1001.5,703.5 1001.7,705.4 1001.9,704.0 1002.1,707.2 1002.3,705.9 1002.5,704.7 1002.7,706.7 1002.9,707.8 1003.1,706.2 1003.3,707.9 1003.5,705.5 1003.7,704.8 1003.9,706.5 1004.1,706.5 1004.3,704.0 1004.5,705.5 1004.7,707.0 1005.0,706.9 1005.2,705.0 1005.4,706.4 1005.6,702.6 1005.8,703.4 1006.0,703.4 1006.2,704.8 1006.4,702.1 1006.6,704.7 1006.8,702.1 1007.0,700.3 1007.2,701.1 1007.4,697.3 1007.6,696.7 1007.8,697.7 1008.0,691.9 1008.2,692.5 1008.4,687.1 1008.6,683.2 1008.8,681.1 1009.0,676.8 1009.2,671.3 1009.4,668.4 1009.6,663.6 1009.8,664.9 1010.0,665.9 1010.2,668.0 1010.4,667.7 1010.6,671.7 1010.8,675.4 1011.0,679.9 1011.2,686.6 1011.4,690.6 1011.6,690.4 1011.8,693.2 1012.0,695.1 1012.2,698.9 1012.4,699.5 1012.6,699.6 1012.8,702.4 1013.0,700.6 1013.2,700.6 1013.4,702.7 1013.6,703.1 1013.8,704.1 1014.0,705.1 1014.2,707.0 1014.4,704.5 1014.6,704.9 1014.8,707.1 1015.0,705.0 1015.2,706.1 1015.4,704.9 1015.6,702.7 1015.8,703.5 1016.0,707.0 1016.2,703.7 1016.4,704.4 1016.6,704.9 1016.8,704.9 1017.0,705.2 1017.2,706.7 1017.4,706.6 1017.6,704.5 1017.8,705.5 1018.0,705.1 1018.2,705.0 1018.4,706.1 1018.6,706.3 1018.8,702.6 1019.0,701.6 1019.2,700.8 1019.4,698.6 1019.6,698.0 1019.8,696.9 1020.0,695.5 1020.2,691.4 1020.4,688.0 1020.6,688.1 1020.8,690.4 1021.0,691.0 1021.2,691.8 1021.4,693.5 1021.6,696.4 1021.8,696.9 1022.0,699.9 1022.2,700.4 1022.4,702.7 1022.6,700.3 1022.8,703.2 1023.0,706.2 1023.2,704.4 1023.4,703.7 1023.6,701.6 1023.8,705.3 1024.0,703.6 1024.2,702.6 1024.4,707.0 1024.6,704.4 1024.8,705.0 1025.0,705.0 1025.3,706.8 1025.5,706.1 1025.7,705.3 1025.9,705.4 1026.1,704.9 1026.3,706.2 1026.5,704.9 1026.7,704.5 1026.9,703.8 1027.1,706.3 1027.3,704.6 1027.5,704.7 1027.7,702.8 1027.9,705.5 1028.1,703.8 1028.3,707.1 1028.5,703.6 1028.7,704.0 1028.9,706.2 1029.1,707.9 1029.3,707.5 1029.5,705.7 1029.7,705.4 1029.9,706.0 1030.1,704.0 1030.3,707.0 1030.5,702.4 1030.7,706.3 1030.9,704.6 1031.1,703.7 1031.3,705.5 1031.5,705.3 1031.7,702.7 1031.9,704.1 1032.1,704.7 1032.3,704.2 1032.5,704.2 1032.7,705.0 1032.9,706.3 1033.1,705.3 1033.3,704.8 1033.5,704.1 1033.7,704.7 1033.9,704.8 1034.1,705.3 1034.3,703.8 1034.5,703.9 1034.7,705.2 1034.9,703.3 1035.1,704.5 1035.3,704.8 1035.5,702.9 1035.7,702.5 1035.9,701.2 1036.1,701.0 1036.3,700.3 1036.5,701.3 1036.7,701.1 1036.9,698.4 1037.1,696.7 1037.3,697.4 1037.5,697.1 1037.7,699.3 1037.9,697.4 1038.1,700.3 1038.3,703.7 1038.5,702.5 1038.7,700.7 1038.9,702.8 1039.1,703.2 1039.3,702.5 1039.5,702.8 1039.7,705.5 1039.9,702.6 1040.1,702.0 1040.3,703.4 1040.5,703.8 1040.7,704.3 1040.9,706.0 1041.1,706.1 1041.3,703.8 1041.5,704.7 1041.7,706.1 1041.9,705.3 1042.1,705.2 1042.3,703.1 1042.5,705.6 1042.7,704.2 1042.9,708.0 1043.1,704.6 1043.3,705.5 1043.5,706.3 1043.7,707.1 1043.9,705.0 1044.1,705.4 1044.3,703.4 1044.5,701.9 1044.7,703.7 1044.9,704.8 1045.2,704.4 1045.4,704.5 1045.6,701.6 1045.8,702.3 1046.0,697.6 1046.2,692.8 1046.4,689.3 1046.6,684.1 1046.8,680.2 1047.0,674.3 1047.2,670.2 1047.4,671.3 1047.6,675.3 1047.8,678.1 1048.0,686.9 1048.2,690.5 1048.4,694.4 1048.6,697.4 1048.8,699.9 1049.0,703.4 1049.2,702.6 1049.4,705.3 1049.6,705.2 1049.8,704.3 1050.0,705.3 1050.2,707.9 1050.4,707.0 1050.6,708.5 1050.8,708.9 1051.0,705.2 1051.2,706.7 1051.4,706.7 1051.6,705.2 1051.8,706.8 1052.0,705.1 1052.2,706.5 1052.4,704.5 1052.6,705.0 1052.8,703.9 1053.0,700.8 1053.2,703.5 1053.4,704.6 1053.6,702.7 1053.8,702.3 1054.0,702.5 1054.2,700.5 1054.4,701.7 1054.6,702.8 1054.8,700.2 1055.0,701.2 1055.2,702.8 1055.4,702.7 1055.6,701.7 1055.8,704.6 1056.0,704.3 1056.2,704.2 1056.4,702.5 1056.6,705.6 1056.8,703.1 1057.0,701.7 1057.2,704.9 1057.4,700.9 1057.6,704.1 1057.8,704.2 1058.0,703.2 1058.2,703.4 1058.4,702.9 1058.6,703.1 1058.8,706.9 1059.0,706.4 1059.2,702.1 1059.4,703.6 1059.6,704.3 1059.8,704.8 1060.0,706.4 1060.2,704.5 1060.4,703.2 1060.6,705.7 1060.8,704.3 1061.0,704.9 1061.2,705.5 1061.4,705.7 1061.6,707.2 1061.8,703.3 1062.0,706.2 1062.2,705.9 1062.4,703.1 1062.6,704.2 1062.8,705.5 1063.0,705.7 1063.2,709.5 1063.4,706.0 1063.6,705.4 1063.8,707.2 1064.0,706.2 1064.2,704.9 1064.4,705.6 1064.6,706.0 1064.8,703.9 1065.0,704.2 1065.2,706.7 1065.5,706.0 1065.7,706.6 1065.9,707.3 1066.1,708.8 1066.3,707.5 1066.5,703.3 1066.7,707.4 1066.9,706.0 1067.1,704.0 1067.3,705.6 1067.5,705.0 1067.7,705.3 1067.9,705.2 1068.1,705.4 1068.3,706.7 1068.5,706.3 1068.7,705.6 1068.9,704.0 1069.1,705.2 1069.3,706.6 1069.5,707.2 1069.7,710.0 1069.9,707.7 1070.1,705.2 1070.3,705.0 1070.5,705.3 1070.7,706.2 1070.9,703.9 1071.1,708.1 1071.3,703.7 1071.5,704.0 1071.7,706.1 1071.9,705.5 1072.1,703.9 1072.3,706.1 1072.5,703.5 1072.7,704.0 1072.9,705.6 1073.1,706.5 1073.3,702.9 1073.5,702.0 1073.7,702.1 1073.9,704.5 1074.1,702.0 1074.3,703.8 1074.5,702.0 1074.7,700.3 1074.9,701.7 1075.1,699.7 1075.3,698.5 1075.5,699.5 1075.7,700.7 1075.9,696.8 1076.1,697.8 1076.3,699.2 1076.5,697.7 1076.7,698.8 1076.9,699.0 1077.1,702.2 1077.3,701.8 1077.5,701.0 1077.7,703.3 1077.9,701.7 1078.1,702.5 1078.3,702.6 1078.5,703.1 1078.7,705.3 1078.9,705.0 1079.1,703.0 1079.3,705.5 1079.5,705.9 1079.7,704.2 1079.9,703.8 1080.1,705.4 1080.3,704.5 1080.5,705.7 1080.7,705.5 1080.9,704.9 1081.1,704.5 1081.3,705.5 1081.5,704.6 1081.7,702.9 1081.9,705.8 1082.1,702.9 1082.3,702.6 1082.5,702.2 1082.7,707.7 1082.9,702.7 1083.1,706.1 1083.3,706.6 1083.5,705.4 1083.7,706.4 1083.9,704.2 1084.1,703.6 1084.3,704.2 1084.5,706.2 1084.7,708.2 1084.9,707.2 1085.1,706.7 1085.3,704.4 1085.6,706.2 1085.8,708.1 1086.0,706.9 1086.2,705.6 1086.4,705.0 1086.6,706.7 1086.8,707.4 1087.0,707.9 1087.2,706.7 1087.4,705.1 1087.6,707.8 1087.8,703.9 1088.0,705.8 1088.2,703.1 1088.4,704.4 1088.6,703.8 1088.8,703.8 1089.0,704.2 1089.2,705.2 1089.4,704.6 1089.6,703.8 1089.8,702.4 1090.0,700.1 1090.2,703.9 1090.4,702.7 1090.6,702.1 1090.8,699.6 1091.0,702.3 1091.2,696.5 1091.4,699.4 1091.6,699.0 1091.8,698.8 1092.0,699.1 1092.2,701.6 1092.4,701.6 1092.6,702.6 1092.8,702.8 1093.0,703.6 1093.2,701.3 1093.4,704.4 1093.6,703.5 1093.8,702.2 1094.0,703.4 1094.2,704.9 1094.4,705.5 1094.6,706.0 1094.8,704.0 1095.0,705.0 1095.2,706.0 1095.4,706.6 1095.6,704.4 1095.8,704.9 1096.0,704.7 1096.2,705.8 1096.4,707.9 1096.6,703.3 1096.8,707.1 1097.0,707.7 1097.2,706.0 1097.4,706.7 1097.6,705.9 1097.8,706.3 1098.0,707.6 1098.2,708.1 1098.4,709.3 1098.6,703.2 1098.8,707.4 1099.0,704.9 1099.2,706.5 1099.4,704.6 1099.6,704.6 1099.8,706.9 1100.0,708.4 1100.2,708.3 1100.4,708.1 1100.6,704.8 1100.8,706.8 1101.0,707.8 1101.2,706.5 1101.4,706.9 1101.6,706.8 1101.8,706.8 1102.0,705.4 1102.2,707.0 1102.4,707.9 1102.6,707.3 1102.8,704.9 1103.0,706.2 1103.2,706.8 1103.4,704.6 1103.6,707.1 1103.8,706.4 1104.0,705.3 1104.2,706.5 1104.4,704.3 1104.6,707.8 1104.8,706.5 1105.0,706.3 1105.2,706.4 1105.5,705.2 1105.7,705.9 1105.9,705.1 1106.1,704.9 1106.3,707.3 1106.5,704.1 1106.7,705.6 1106.9,705.2 1107.1,708.3 1107.3,706.8 1107.5,706.5 1107.7,704.5 1107.9,704.0 1108.1,702.6 1108.3,705.1 1108.5,706.4 1108.7,707.4 1108.9,705.5 1109.1,708.7 1109.3,707.3 1109.5,706.6 1109.7,705.1 1109.9,706.3 1110.1,706.5 1110.3,707.5 1110.5,705.9 1110.7,707.5 1110.9,708.0 1111.1,708.2 1111.3,705.4 1111.5,705.2 1111.7,706.5 1111.9,706.7 1112.1,706.3 1112.3,704.9 1112.5,704.5 1112.7,704.6 1112.9,703.2 1113.1,702.9 1113.3,701.8 1113.5,697.4 1113.7,698.9 1113.9,696.2 1114.1,695.0 1114.3,691.1 1114.5,688.0 1114.7,689.4 1114.9,690.1 1115.1,691.4 1115.3,693.7 1115.5,696.9 1115.7,698.5 1115.9,700.2 1116.1,699.8 1116.3,702.8 1116.5,704.4 1116.7,705.2 1116.9,703.8 1117.1,708.1 1117.3,704.7 1117.5,705.7 1117.7,708.1 1117.9,708.9 1118.1,710.2 1118.3,706.4 1118.5,707.9 1118.7,708.1 1118.9,707.6 1119.1,706.9 1119.3,705.6 1119.5,707.2 1119.7,708.6 1119.9,707.6 1120.1,705.8 1120.3,705.5 1120.5,706.5 1120.7,707.9 1120.9,704.1 1121.1,704.7 1121.3,705.8 1121.5,704.0 1121.7,705.0 1121.9,705.0 1122.1,707.0 1122.3,704.7 1122.5,708.0 1122.7,706.8 1122.9,704.6 1123.1,708.6 1123.3,707.0 1123.5,706.9 1123.7,704.1 1123.9,708.4 1124.1,706.9 1124.3,706.4 1124.5,705.4 1124.7,705.8 1124.9,706.3 1125.1,707.0 1125.3,705.1 1125.5,708.0 1125.8,703.6 1126.0,703.9 1126.2,701.9 1126.4,705.0 1126.6,703.6 1126.8,700.4 1127.0,698.1 1127.2,695.5 1127.4,692.4 1127.6,689.6 1127.8,687.9 1128.0,689.4 1128.2,690.3 1128.4,689.7 1128.6,691.8 1128.8,693.3 1129.0,696.9 1129.2,699.6 1129.4,700.5 1129.6,704.3 1129.8,702.1 1130.0,702.8 1130.2,703.9 1130.4,705.9 1130.6,703.6 1130.8,706.1 1131.0,707.8 1131.2,707.5 1131.4,705.6 1131.6,707.7 1131.8,708.3 1132.0,707.4 1132.2,706.8 1132.4,707.0 1132.6,707.1 1132.8,708.2 1133.0,705.9 1133.2,706.7 1133.4,707.1 1133.6,708.7 1133.8,707.4 1134.0,706.5 1134.2,705.5 1134.4,706.1 1134.6,707.3 1134.8,705.2 1135.0,708.3 1135.2,706.8 1135.4,707.3 1135.6,704.5 1135.8,705.8 1136.0,706.1 1136.2,704.6 1136.4,706.1 1136.6,707.9 1136.8,705.0 1137.0,706.2 1137.2,705.0 1137.4,706.8 1137.6,706.1 1137.8,706.1 1138.0,705.1 1138.2,705.0 1138.4,704.6 1138.6,704.7 1138.8,705.7 1139.0,705.9 1139.2,707.1 1139.4,706.2 1139.6,708.5 1139.8,710.5 1140.0,706.2 1140.2,707.4 1140.4,707.0 1140.6,708.2 1140.8,708.5 1141.0,707.8 1141.2,710.1 1141.4,708.6 1141.6,707.8 1141.8,706.8 1142.0,709.1 1142.2,706.8 1142.4,708.8 1142.6,703.9 1142.8,705.3 1143.0,706.7 1143.2,706.0 1143.4,706.5 1143.6,708.6 1143.8,703.7 1144.0,706.5 1144.2,707.8 1144.4,706.7 1144.6,708.3 1144.8,705.9 1145.0,708.7 1145.2,705.1 1145.4,704.3 1145.7,708.0 1145.9,705.9 1146.1,707.2 1146.3,706.0 1146.5,707.7 1146.7,705.6 1146.9,708.2 1147.1,706.9 1147.3,706.3 1147.5,705.0 1147.7,706.1 1147.9,704.0 1148.1,706.9 1148.3,704.3 1148.5,705.8 1148.7,705.6 1148.9,707.3 1149.1,707.3 1149.3,705.9 1149.5,705.7 1149.7,708.0 1149.9,708.3 1150.1,703.8 1150.3,707.4 1150.5,706.0 1150.7,709.0 1150.9,707.7 1151.1,707.7 1151.3,708.2 1151.5,705.9 1151.7,705.4 1151.9,707.6 1152.1,706.1 1152.3,709.4 1152.5,707.3 1152.7,705.4 1152.9,704.5 1153.1,706.7 1153.3,706.8 1153.5,706.4 1153.7,707.9 1153.9,705.9 1154.1,707.0 1154.3,706.0 1154.5,706.8 1154.7,708.2 1154.9,705.3 1155.1,704.9 1155.3,705.3 1155.5,709.5 1155.7,708.0 1155.9,707.3 1156.1,706.3 1156.3,707.7 1156.5,706.6 1156.7,708.3 1156.9,708.1 1157.1,707.3 1157.3,706.6 1157.5,705.0 1157.7,706.6 1157.9,706.7 1158.1,708.0 1158.3,706.6 1158.5,706.4 1158.7,705.8 1158.9,704.7 1159.1,706.1 1159.3,704.9 1159.5,706.8 1159.7,706.0 1159.9,707.4 1160.1,707.7 1160.3,706.3 1160.5,705.5 1160.7,705.6 1160.9,706.1 1161.1,706.7 1161.3,703.9 1161.5,703.9 1161.7,706.6 1161.9,705.3 1162.1,707.2 1162.3,707.8 1162.5,705.5 1162.7,703.9 1162.9,707.1 1163.1,706.4 1163.3,706.6 1163.5,705.2 1163.7,706.7 1163.9,707.2 1164.1,707.1 1164.3,707.8 1164.5,705.4 1164.7,706.9 1164.9,706.8 1165.1,706.0 1165.3,705.7 1165.5,705.7 1165.8,707.1 1166.0,705.4 1166.2,706.6 1166.4,704.9 1166.6,706.3 1166.8,704.6 1167.0,701.7 1167.2,704.4 1167.4,703.3 1167.6,702.4 1167.8,702.4 1168.0,701.8 1168.2,703.9 1168.4,704.4 1168.6,704.3 1168.8,704.0 1169.0,704.6 1169.2,704.9 1169.4,705.3 1169.6,706.5 1169.8,705.7 1170.0,704.1 1170.2,707.2 1170.4,707.2 1170.6,704.7 1170.8,704.3 1171.0,704.2 1171.2,707.4 1171.4,706.7 1171.6,707.7 1171.8,708.6 1172.0,707.2 1172.2,706.8 1172.4,706.6 1172.6,704.6 1172.8,704.2 1173.0,706.3 1173.2,704.4 1173.4,705.2 1173.6,706.4 1173.8,710.0 1174.0,705.4 1174.2,707.9 1174.4,706.9 1174.6,706.7 1174.8,705.8 1175.0,709.0 1175.2,706.8 1175.4,705.8 1175.6,709.4 1175.8,705.0 1176.0,707.7 1176.2,708.2 1176.4,706.9 1176.6,706.7 1176.8,708.2 1177.0,705.6 1177.2,707.8 1177.4,706.4 1177.6,708.1 1177.8,706.9 1178.0,705.7 1178.2,705.3 1178.4,706.9 1178.6,705.9 1178.8,708.7 1179.0,705.2 1179.2,706.3 1179.4,707.0 1179.6,705.7 1179.8,708.2 1180.0,704.9 1180.2,706.3 1180.4,705.0 1180.6,706.1 1180.8,704.4 1181.0,707.4 1181.2,706.2 1181.4,704.0 1181.6,706.4 1181.8,705.0 1182.0,705.2 1182.2,705.3 1182.4,708.7 1182.6,708.6 1182.8,704.8 1183.0,704.4 1183.2,707.7 1183.4,707.9 1183.6,705.0 1183.8,705.0 1184.0,703.8 1184.2,705.7 1184.4,706.2 1184.6,704.2 1184.8,704.7 1185.0,706.2 1185.2,706.1 1185.4,705.8 1185.6,704.2 1185.9,706.4 1186.1,706.2 1186.3,704.9 1186.5,706.8 1186.7,704.5 1186.9,704.2 1187.1,704.5 1187.3,705.0 1187.5,703.6 1187.7,705.0 1187.9,703.8 1188.1,702.3 1188.3,701.0 1188.5,701.5 1188.7,700.1 1188.9,701.8 1189.1,699.5 1189.3,697.1 1189.5,697.9 1189.7,699.4 1189.9,696.7 1190.1,695.6 1190.3,697.0 1190.5,695.4 1190.7,696.9 1190.9,696.4 1191.1,698.5 1191.3,699.2 1191.5,700.8 1191.7,702.8 1191.9,702.3 1192.1,703.2 1192.3,702.3 1192.5,703.4 1192.7,703.8 1192.9,700.2 1193.1,704.6 1193.3,701.2 1193.5,706.8 1193.7,705.1 1193.9,705.3 1194.1,706.6 1194.3,705.1 1194.5,706.2 1194.7,703.7 1194.9,704.2 1195.1,705.0 1195.3,705.4 1195.5,705.7 1195.7,705.2 1195.9,703.1 1196.1,704.9 1196.3,704.9 1196.5,704.7 1196.7,706.7 1196.9,704.1 1197.1,704.2 1197.3,704.6 1197.5,706.4 1197.7,708.6 1197.9,703.8 1198.1,706.0 1198.3,707.7 1198.5,706.4 1198.7,703.7 1198.9,709.1 1199.1,705.0 1199.3,706.7 1199.5,705.0 1199.7,707.5 1199.9,704.3 1200.1,706.1 1200.3,707.7 1200.5,705.3 1200.7,708.4 1200.9,705.0 1201.1,704.8 1201.3,710.5 1201.5,707.5 1201.7,706.1 1201.9,706.4 1202.1,705.1 1202.3,703.9 1202.5,705.1 1202.7,704.8 1202.9,703.1 1203.1,707.1 1203.3,705.7 1203.5,707.9 1203.7,706.3 1203.9,705.1 1204.1,706.2 1204.3,707.7 1204.5,705.4 1204.7,704.5 1204.9,705.5 1205.1,707.7 1205.3,707.8 1205.5,707.0 1205.7,705.1 1206.0,707.8 1206.2,706.2 1206.4,707.3 1206.6,704.6 1206.8,705.8 1207.0,705.4 1207.2,707.6 1207.4,707.8 1207.6,707.1 1207.8,704.1 1208.0,707.0 1208.2,707.4 1208.4,705.7 1208.6,704.4 1208.8,708.0 1209.0,706.5 1209.2,705.8 1209.4,704.5 1209.6,706.5 1209.8,705.7 1210.0,707.9 1210.2,708.7 1210.4,707.1 1210.6,704.2 1210.8,706.5 1211.0,707.0 1211.2,708.5 1211.4,708.1 1211.6,706.0 1211.8,705.0 1212.0,706.6 1212.2,707.6 1212.4,709.3 1212.6,708.3 1212.8,707.3 1213.0,707.4 1213.2,706.8 1213.4,706.0 1213.6,706.7 1213.8,704.6 1214.0,706.7 1214.2,705.7 1214.4,706.5 1214.6,704.5 1214.8,706.4 1215.0,706.6 1215.2,708.8 1215.4,707.3 1215.6,707.5 1215.8,706.5 1216.0,706.8 1216.2,705.4 1216.4,704.6 1216.6,706.9 1216.8,705.8 1217.0,702.5 1217.2,704.4 1217.4,704.4 1217.6,703.7 1217.8,702.2 1218.0,700.9 1218.2,704.2 1218.4,702.2 1218.6,700.2 1218.8,703.2 1219.0,700.5 1219.2,700.7 1219.4,701.5 1219.6,702.4 1219.8,700.7 1220.0,699.5 1220.2,700.9 1220.4,702.2 1220.6,700.0 1220.8,702.9 1221.0,699.0 1221.2,699.4 1221.4,702.5 1221.6,704.4 1221.8,703.7 1222.0,702.9 1222.2,704.6 1222.4,704.1 1222.6,704.4 1222.8,707.8 1223.0,703.2 1223.2,704.8 1223.4,706.4 1223.6,705.5 1223.8,704.4 1224.0,705.6 1224.2,705.0 1224.4,703.9 1224.6,706.3 1224.8,706.9 1225.0,707.6 1225.2,704.8 1225.4,705.0 1225.6,706.7 1225.8,705.3 1226.1,707.9 1226.3,705.4 1226.5,702.9 1226.7,704.6 1226.9,706.6 1227.1,704.8 1227.3,706.9 1227.5,707.1 1227.7,708.9 1227.9,705.5 1228.1,706.4 1228.3,708.1 1228.5,706.5 1228.7,707.4 1228.9,706.4 1229.1,710.0 1229.3,707.5 1229.5,707.1 1229.7,706.7 1229.9,707.6 1230.1,708.3 1230.3,706.1 1230.5,708.2 1230.7,708.1 1230.9,709.9 1231.1,707.5 1231.3,706.1 1231.5,707.6 1231.7,708.3 1231.9,709.0 1232.1,706.2 1232.3,706.3 1232.5,708.2 1232.7,708.7 1232.9,707.4 1233.1,707.2 1233.3,708.6 1233.5,709.7 1233.7,707.6 1233.9,709.8 1234.1,705.0 1234.3,707.5 1234.5,709.0 1234.7,710.0 1234.9,709.2 1235.1,707.3 1235.3,707.5 1235.5,710.1 1235.7,710.3 1235.9,709.5 1236.1,709.8 1236.3,705.5 1236.5,709.3 1236.7,709.5 1236.9,709.6 1237.1,710.6 1237.3,709.1 1237.5,706.9 1237.7,708.8 1237.9,708.4 1238.1,709.0 1238.3,707.3 1238.5,706.6 1238.7,709.5 1238.9,710.0 1239.1,707.4 1239.3,709.0 1239.5,711.2 1239.7,708.4 1239.9,708.4 1240.1,706.3 1240.3,707.0 1240.5,708.9 1240.7,708.4 1240.9,709.7 1241.1,710.3 1241.3,709.4 1241.5,708.5 1241.7,707.1 1241.9,708.7 1242.1,707.9 1242.3,707.7 1242.5,707.8 1242.7,705.7 1242.9,706.7 1243.1,705.1 1243.3,706.9 1243.5,704.3 1243.7,705.9 1243.9,706.3 1244.1,704.2 1244.3,706.5 1244.5,707.1 1244.7,707.2 1244.9,706.7 1245.1,705.8 1245.3,706.3 1245.5,707.0 1245.7,705.7 1245.9,708.1 1246.2,708.8 1246.4,704.0 1246.6,706.2 1246.8,706.4 1247.0,704.4 1247.2,705.4 1247.4,707.5 1247.6,706.7 1247.8,707.8 1248.0,709.4 1248.2,705.7 1248.4,707.7 1248.6,706.8 1248.8,706.5 1249.0,704.8 1249.2,707.2 1249.4,707.3 1249.6,704.4 1249.8,705.4 1250.0,706.4 1250.2,705.1 1250.4,704.5 1250.6,704.0 1250.8,704.0 1251.0,704.3 1251.2,705.5 1251.4,702.4 1251.6,701.9 1251.8,702.5 1252.0,707.0 1252.2,702.1 1252.4,703.4 1252.6,703.9 1252.8,705.1 1253.0,702.0 1253.2,704.7 1253.4,704.5 1253.6,707.6 1253.8,703.6 1254.0,705.1 1254.2,707.0 1254.4,707.6 1254.6,707.5 1254.8,708.2 1255.0,704.9 1255.2,706.8 1255.4,705.8 1255.6,704.6 1255.8,707.6 1256.0,709.8 1256.2,707.0" fill="none" stroke="#0000ff" stroke-width="2.5" stroke-linejoin="round" stroke-linecap="round"/>
<polyline points="693.4,957.3 693.6,958.5 693.8,958.5 694.0,957.4 694.2,957.5 694.4,957.5 694.6,956.9 694.8,957.3 695.0,960.6 695.2,959.1 695.4,958.4 695.6,959.1 695.8,957.7 696.0,956.0 696.2,956.6 696.4,959.3 696.6,958.5 696.8,957.9 697.0,959.6 697.2,956.7 697.4,958.2 697.6,960.4 697.8,956.6 698.0,959.2 698.2,959.8 698.4,958.7 698.6,957.7 698.8,957.4 699.0,957.9 699.2,960.1 699.4,959.1 699.6,960.0 699.8,959.2 700.0,961.0 700.2,958.2 700.4,957.4 700.6,961.9 700.8,959.5 701.0,957.3 701.2,958.2 701.4,957.8 701.6,957.2 701.8,957.2 702.0,956.5 702.2,957.4 702.4,959.3 702.6,960.7 702.8,956.9 703.0,956.3 703.2,958.6 703.4,957.4 703.7,956.7 703.9,958.9 704.1,958.1 704.3,957.1 704.5,958.7 704.7,958.5 704.9,958.7 705.1,959.4 705.3,959.5 705.5,957.1 705.7,956.6 705.9,957.5 706.1,956.9 706.3,957.4 706.5,957.6 706.7,956.7 706.9,956.7 707.1,957.8 707.3,956.0 707.5,956.9 707.7,960.5 707.9,957.0 708.1,956.9 708.3,956.5 708.5,958.0 708.7,956.4 708.9,957.2 709.1,957.2 709.3,958.3 709.5,959.0 709.7,956.2 709.9,955.3 710.1,958.2 710.3,956.9 710.5,961.2 710.7,959.3 710.9,959.3 711.1,955.7 711.3,957.1 711.5,957.0 711.7,955.2 711.9,957.5 712.1,958.2 712.3,956.9 712.5,955.6 712.7,955.7 712.9,958.9 713.1,958.1 713.3,959.0 713.5,955.8 713.7,957.9 713.9,958.2 714.1,954.4 714.3,954.7 714.5,956.9 714.7,955.1 714.9,957.9 715.1,956.5 715.3,958.2 715.5,954.6 715.7,956.7 715.9,955.2 716.1,956.5 716.3,956.8 716.5,957.4 716.7,956.2 716.9,958.0 717.1,956.1 717.3,955.5 717.5,955.9 717.7,954.9 717.9,956.0 718.1,959.0 718.3,956.5 718.5,958.2 718.7,958.2 718.9,958.0 719.1,957.9 719.3,956.5 719.5,959.6 719.7,956.5 719.9,959.1 720.1,957.0 720.3,957.0 720.5,959.6 720.7,959.2 720.9,958.9 721.1,959.3 721.3,958.7 721.5,958.3 721.7,958.7 721.9,961.8 722.1,959.4 722.3,960.6 722.5,959.9 722.7,958.1 722.9,958.5 723.1,957.8 723.3,961.4 723.5,956.6 723.8,959.1 724.0,960.4 724.2,954.7 724.4,957.2 724.6,957.9 724.8,956.5 725.0,958.0 725.2,956.7 725.4,958.1 725.6,958.5 725.8,957.7 726.0,959.1 726.2,956.0 726.4,960.9 726.6,956.7 726.8,956.5 727.0,956.4 727.2,956.1 727.4,958.4 727.6,954.7 727.8,958.4 728.0,957.2 728.2,958.8 728.4,955.7 728.6,959.2 728.8,955.8 729.0,955.7 729.2,956.6 729.4,958.4 729.6,956.7 729.8,957.8 730.0,957.0 730.2,957.1 730.4,956.4 730.6,958.6 730.8,957.6 731.0,957.4 731.2,957.4 731.4,959.4 731.6,956.2 731.8,957.8 732.0,958.8 732.2,957.7 732.4,957.0 732.6,961.7 732.8,956.2 733.0,960.3 733.2,957.8 733.4,958.2 733.6,957.2 733.8,957.3 734.0,956.5 734.2,959.1 734.4,956.7 734.6,956.3 734.8,956.4 735.0,954.2 735.2,957.7 735.4,953.9 735.6,956.3 735.8,957.3 736.0,957.3 736.2,956.0 736.4,957.3 736.6,956.5 736.8,957.1 737.0,956.3 737.2,958.3 737.4,959.5 737.6,960.3 737.8,956.9 738.0,957.7 738.2,959.6 738.4,956.6 738.6,958.3 738.8,959.6 739.0,955.8 739.2,957.5 739.4,959.7 739.6,959.1 739.8,959.7 740.0,957.4 740.2,956.7 740.4,955.8 740.6,958.3 740.8,959.2 741.0,957.8 741.2,959.8 741.4,957.9 741.6,958.4 741.8,959.0 742.0,957.3 742.2,958.7 742.4,961.5 742.6,957.9 742.8,958.0 743.0,960.0 743.2,958.6 743.4,957.2 743.6,959.2 743.9,958.1 744.1,957.5 744.3,959.8 744.5,959.0 744.7,958.3 744.9,958.1 745.1,958.7 745.3,958.1 745.5,957.2 745.7,960.4 745.9,957.0 746.1,954.0 746.3,955.4 746.5,955.7 746.7,957.0 746.9,958.2 747.1,957.9 747.3,953.6 747.5,956.4 747.7,956.2 747.9,956.0 748.1,955.2 748.3,953.9 748.5,955.9 748.7,956.5 748.9,956.5 749.1,956.1 749.3,954.5 749.5,955.2 749.7,954.1 749.9,954.7 750.1,953.2 750.3,951.6 750.5,953.5 750.7,954.5 750.9,952.1 751.1,955.6 751.3,956.1 751.5,953.9 751.7,953.2 751.9,953.6 752.1,953.0 752.3,949.1 752.5,947.3 752.7,942.9 752.9,934.5 753.1,926.5 753.3,912.5 753.5,891.7 753.7,864.1 753.9,830.4 754.1,799.2 754.3,769.2 754.5,746.6 754.7,748.7 754.9,772.1 755.1,804.6 755.3,841.0 755.5,871.7 755.7,894.8 755.9,914.2 756.1,928.3 756.3,938.0 756.5,944.1 756.7,948.3 756.9,948.7 757.1,950.3 757.3,952.4 757.5,952.4 757.7,951.8 757.9,953.3 758.1,952.5 758.3,950.9 758.5,955.0 758.7,952.5 758.9,951.4 759.1,951.8 759.3,951.0 759.5,950.4 759.7,945.2 759.9,939.8 760.1,929.5 760.3,922.1 760.5,904.9 760.7,887.8 760.9,862.8 761.1,839.2 761.3,816.6 761.5,805.8 761.7,809.6 761.9,830.1 762.1,854.7 762.3,876.6 762.5,899.1 762.7,915.6 762.9,929.3 763.1,938.2 763.3,947.7 763.5,948.6 763.8,950.2 764.0,953.8 764.2,955.9 764.4,954.6 764.6,955.1 764.8,956.1 765.0,953.2 765.2,952.6 765.4,956.1 765.6,954.9 765.8,959.5 766.0,955.6 766.2,953.1 766.4,956.4 766.6,956.1 766.8,958.1 767.0,961.2 767.2,957.0 767.4,953.5 767.6,956.9 767.8,957.8 768.0,956.0 768.2,956.8 768.4,955.7 768.6,957.1 768.8,957.1 769.0,955.2 769.2,958.4 769.4,956.4 769.6,955.1 769.8,956.0 770.0,957.4 770.2,956.2 770.4,957.9 770.6,957.4 770.8,957.9 771.0,960.3 771.2,956.6 771.4,957.8 771.6,955.2 771.8,956.4 772.0,957.1 772.2,957.9 772.4,957.0 772.6,955.4 772.8,957.4 773.0,956.0 773.2,956.3 773.4,957.2 773.6,958.9 773.8,958.8 774.0,957.6 774.2,955.8 774.4,957.5 774.6,954.8 774.8,956.5 775.0,956.4 775.2,953.7 775.4,959.4 775.6,956.2 775.8,955.7 776.0,958.1 776.2,955.3 776.4,958.3 776.6,959.6 776.8,957.7 777.0,958.0 777.2,957.7 777.4,958.1 777.6,956.2 777.8,954.8 778.0,957.8 778.2,955.1 778.4,957.9 778.6,959.6 778.8,957.7 779.0,957.6 779.2,960.3 779.4,957.4 779.6,957.0 779.8,957.7 780.0,957.8 780.2,958.2 780.4,954.8 780.6,957.3 780.8,958.4 781.0,956.0 781.2,956.5 781.4,955.5 781.6,958.1 781.8,957.2 782.0,958.1 782.2,956.5 782.4,959.0 782.6,957.0 782.8,956.4 783.0,958.0 783.2,955.6 783.4,957.0 783.6,954.6 783.9,956.2 784.1,956.8 784.3,961.0 784.5,956.9 784.7,958.5 784.9,957.2 785.1,956.4 785.3,956.3 785.5,957.8 785.7,957.6 785.9,960.3 786.1,956.8 786.3,956.8 786.5,957.0 786.7,958.7 786.9,957.1 787.1,961.2 787.3,957.2 787.5,958.7 787.7,957.5 787.9,958.0 788.1,958.2 788.3,957.9 788.5,958.1 788.7,956.0 788.9,958.2 789.1,956.0 789.3,957.7 789.5,956.8 789.7,960.4 789.9,956.9 790.1,957.7 790.3,957.9 790.5,958.5 790.7,958.5 790.9,957.0 791.1,957.2 791.3,957.8 791.5,957.7 791.7,958.0 791.9,960.4 792.1,957.9 792.3,958.1 792.5,957.0 792.7,957.1 792.9,957.9 793.1,958.4 793.3,960.3 793.5,958.0 793.7,958.2 793.9,958.2 794.1,961.1 794.3,960.1 794.5,953.8 794.7,957.6 794.9,958.0 795.1,960.4 795.3,956.6 795.5,957.8 795.7,957.3 795.9,957.0 796.1,956.4 796.3,954.9 796.5,955.6 796.7,954.6 796.9,951.2 797.1,955.8 797.3,950.2 797.5,950.1 797.7,951.5 797.9,950.8 798.1,950.6 798.3,945.9 798.5,949.7 798.7,950.1 798.9,949.6 799.1,948.7 799.3,951.1 799.5,952.7 799.7,954.0 799.9,957.1 800.1,956.1 800.3,955.5 800.5,955.8 800.7,957.5 800.9,957.5 801.1,956.7 801.3,957.8 801.5,957.5 801.7,956.7 801.9,955.8 802.1,958.2 802.3,958.9 802.5,955.2 802.7,956.8 802.9,956.2 803.1,958.8 803.3,956.5 803.5,956.7 803.7,957.4 804.0,958.1 804.2,957.3 804.4,953.2 804.6,954.9 804.8,954.1 805.0,952.3 805.2,951.2 805.4,949.3 805.6,944.5 805.8,943.5 806.0,940.9 806.2,936.1 806.4,934.2 806.6,937.3 806.8,937.0 807.0,941.7 807.2,945.1 807.4,946.1 807.6,949.0 807.8,949.7 808.0,955.9 808.2,955.6 808.4,956.1 808.6,957.7 808.8,954.5 809.0,956.7 809.2,956.8 809.4,955.8 809.6,960.1 809.8,958.2 810.0,957.7 810.2,954.0 810.4,958.7 810.6,960.7 810.8,957.4 811.0,960.5 811.2,957.4 811.4,958.9 811.6,956.5 811.8,956.6 812.0,957.7 812.2,955.7 812.4,957.1 812.6,957.6 812.8,959.5 813.0,959.9 813.2,956.9 813.4,956.0 813.6,960.3 813.8,956.3 814.0,958.7 814.2,956.4 814.4,956.7 814.6,958.8 814.8,959.0 815.0,958.0 815.2,956.8 815.4,958.1 815.6,956.0 815.8,957.0 816.0,955.2 816.2,956.5 816.4,957.5 816.6,958.6 816.8,956.6 817.0,956.3 817.2,955.7 817.4,957.8 817.6,958.0 817.8,958.2 818.0,957.4 818.2,961.1 818.4,957.1 818.6,957.4 818.8,956.0 819.0,955.5 819.2,954.4 819.4,956.8 819.6,959.3 819.8,956.4 820.0,956.2 820.2,959.7 820.4,958.5 820.6,956.9 820.8,958.0 821.0,957.8 821.2,956.6 821.4,958.4 821.6,955.8 821.8,956.2 822.0,958.4 822.2,959.9 822.4,957.1 822.6,955.7 822.8,959.9 823.0,956.6 823.2,959.6 823.4,956.7 823.6,958.3 823.8,956.5 824.0,960.2 824.3,957.0 824.5,956.4 824.7,957.8 824.9,957.0 825.1,957.8 825.3,955.1 825.5,956.2 825.7,956.9 825.9,958.2 826.1,954.9 826.3,956.0 826.5,956.4 826.7,955.5 826.9,958.5 827.1,958.3 827.3,955.6 827.5,956.0 827.7,957.9 827.9,958.4 828.1,957.0 828.3,960.2 828.5,959.5 828.7,958.8 828.9,958.4 829.1,955.6 829.3,956.3 829.5,959.1 829.7,957.7 829.9,956.4 830.1,958.0 830.3,959.9 830.5,955.0 830.7,958.0 830.9,956.7 831.1,956.1 831.3,954.1 831.5,956.2 831.7,954.2 831.9,955.8 832.1,955.3 832.3,956.2 832.5,953.0 832.7,952.4 832.9,952.8 833.1,950.7 833.3,952.7 833.5,951.4 833.7,952.1 833.9,951.0 834.1,950.9 834.3,949.1 834.5,951.4 834.7,948.1 834.9,949.8 835.1,948.3 835.3,951.6 835.5,949.7 835.7,946.6 835.9,948.8 836.1,952.7 836.3,950.6 836.5,951.4 836.7,952.6 836.9,952.6 837.1,951.5 837.3,952.3 837.5,952.7 837.7,952.1 837.9,952.1 838.1,953.3 838.3,955.6 838.5,955.7 838.7,953.6 838.9,955.8 839.1,952.6 839.3,955.0 839.5,954.4 839.7,955.8 839.9,954.7 840.1,952.9 840.3,954.9 840.5,956.8 840.7,952.9 840.9,957.2 841.1,958.5 841.3,958.6 841.5,954.1 841.7,956.9 841.9,955.8 842.1,957.3 842.3,956.3 842.5,957.0 842.7,957.0 842.9,957.3 843.1,958.3 843.3,957.1 843.5,957.1 843.7,959.7 843.9,956.5 844.1,957.4 844.4,958.7 844.6,956.4 844.8,959.4 845.0,952.9 845.2,955.7 845.4,954.6 845.6,954.6 845.8,948.3 846.0,946.4 846.2,944.3 846.4,937.7 846.6,932.9 846.8,928.7 847.0,922.8 847.2,916.5 847.4,914.1 847.6,916.4 847.8,916.9 848.0,921.7 848.2,931.3 848.4,934.6 848.6,941.3 848.8,944.3 849.0,948.2 849.2,951.8 849.4,955.2 849.6,955.5 849.8,957.0 850.0,958.3 850.2,957.9 850.4,958.8 850.6,958.3 850.8,957.4 851.0,960.8 851.2,959.0 851.4,960.0 851.6,958.4 851.8,956.8 852.0,956.9 852.2,961.0 852.4,957.7 852.6,958.0 852.8,959.8 853.0,958.7 853.2,957.7 853.4,959.9 853.6,958.1 853.8,957.7 854.0,958.8 854.2,957.9 854.4,957.7 854.6,955.0 854.8,955.7 855.0,957.0 855.2,958.2 855.4,958.1 855.6,956.2 855.8,959.6 856.0,957.6 856.2,958.8 856.4,956.9 856.6,954.2 856.8,957.9 857.0,957.3 857.2,957.9 857.4,955.5 857.6,955.0 857.8,957.4 858.0,956.3 858.2,957.0 858.4,955.7 858.6,956.3 858.8,958.9 859.0,956.5 859.2,958.5 859.4,958.3 859.6,956.0 859.8,959.8 860.0,955.9 860.2,957.4 860.4,957.9 860.6,956.2 860.8,956.1 861.0,959.5 861.2,958.6 861.4,957.2 861.6,956.4 861.8,959.3 862.0,955.2 862.2,957.5 862.4,954.4 862.6,954.0 862.8,952.6 863.0,946.4 863.2,944.1 863.4,936.4 863.6,933.7 863.8,929.6 864.0,923.6 864.2,918.8 864.5,922.7 864.7,922.9 864.9,930.0 865.1,935.9 865.3,940.5 865.5,943.8 865.7,946.8 865.9,948.5 866.1,951.4 866.3,953.4 866.5,955.0 866.7,955.7 866.9,954.6 867.1,956.6 867.3,956.6 867.5,955.8 867.7,954.0 867.9,955.5 868.1,954.3 868.3,954.6 868.5,953.0 868.7,954.4 868.9,950.1 869.1,948.9 869.3,948.9 869.5,950.1 869.7,948.8 869.9,950.3 870.1,951.6 870.3,949.0 870.5,950.4 870.7,955.9 870.9,955.3 871.1,954.7 871.3,955.9 871.5,955.1 871.7,954.6 871.9,957.6 872.1,956.5 872.3,958.4 872.5,959.9 872.7,956.5 872.9,960.0 873.1,958.0 873.3,958.5 873.5,956.4 873.7,956.4 873.9,957.1 874.1,956.5 874.3,957.4 874.5,958.1 874.7,956.1 874.9,953.6 875.1,958.5 875.3,955.1 875.5,954.1 875.7,957.2 875.9,955.3 876.1,956.9 876.3,955.9 876.5,954.6 876.7,956.2 876.9,951.4 877.1,951.1 877.3,949.9 877.5,949.5 877.7,944.0 877.9,939.0 878.1,934.2 878.3,929.9 878.5,925.9 878.7,919.2 878.9,913.4 879.1,908.7 879.3,911.8 879.5,914.5 879.7,920.8 879.9,927.7 880.1,932.5 880.3,938.9 880.5,942.2 880.7,947.4 880.9,947.5 881.1,951.4 881.3,952.9 881.5,951.5 881.7,955.2 881.9,954.6 882.1,956.4 882.3,954.8 882.5,957.5 882.7,957.8 882.9,955.8 883.1,957.8 883.3,956.9 883.5,957.6 883.7,958.7 883.9,956.5 884.1,957.2 884.4,957.1 884.6,954.0 884.8,955.9 885.0,955.4 885.2,956.5 885.4,956.2 885.6,955.1 885.8,959.0 886.0,954.8 886.2,955.4 886.4,955.6 886.6,956.9 886.8,956.9 887.0,956.9 887.2,957.0 887.4,956.2 887.6,954.3 887.8,956.6 888.0,957.7 888.2,956.4 888.4,957.6 888.6,957.5 888.8,958.3 889.0,956.5 889.2,956.9 889.4,956.3 889.6,956.7 889.8,958.9 890.0,955.9 890.2,958.1 890.4,960.0 890.6,956.4 890.8,958.6 891.0,955.6 891.2,958.7 891.4,956.3 891.6,956.5 891.8,960.7 892.0,960.1 892.2,957.0 892.4,957.9 892.6,955.7 892.8,958.2 893.0,957.4 893.2,956.8 893.4,957.3 893.6,957.5 893.8,957.6 894.0,959.3 894.2,956.9 894.4,957.6 894.6,957.9 894.8,958.1 895.0,958.1 895.2,957.7 895.4,957.7 895.6,955.6 895.8,955.9 896.0,957.4 896.2,955.4 896.4,957.1 896.6,956.3 896.8,955.4 897.0,955.6 897.2,955.3 897.4,957.3 897.6,956.3 897.8,952.4 898.0,952.9 898.2,952.2 898.4,947.1 898.6,942.0 898.8,936.8 899.0,930.9 899.2,924.3 899.4,917.3 899.6,908.7 899.8,910.9 900.0,917.7 900.2,926.2 900.4,931.9 900.6,938.4 900.8,944.0 901.0,949.1 901.2,950.4 901.4,952.0 901.6,956.9 901.8,957.4 902.0,958.6 902.2,958.2 902.4,958.9 902.6,957.2 902.8,957.1 903.0,958.8 903.2,957.5 903.4,958.4 903.6,960.4 903.8,958.7 904.0,957.6 904.2,959.2 904.5,957.2 904.7,957.6 904.9,960.9 905.1,958.5 905.3,957.3 905.5,956.8 905.7,958.5 905.9,958.7 906.1,960.0 906.3,958.0 906.5,956.8 906.7,958.0 906.9,958.8 907.1,959.0 907.3,959.6 907.5,958.8 907.7,959.9 907.9,957.3 908.1,956.3 908.3,960.4 908.5,957.9 908.7,957.8 908.9,960.3 909.1,959.1 909.3,958.2 909.5,958.6 909.7,959.3 909.9,957.5 910.1,958.4 910.3,958.1 910.5,958.9 910.7,961.0 910.9,957.8 911.1,955.7 911.3,956.7 911.5,955.3 911.7,957.1 911.9,951.8 912.1,954.3 912.3,951.0 912.5,947.3 912.7,944.6 912.9,939.8 913.1,931.1 913.3,920.6 913.5,907.3 913.7,898.8 913.9,887.7 914.1,879.8 914.3,881.7 914.5,888.1 914.7,900.4 914.9,913.7 915.1,922.9 915.3,933.5 915.5,941.1 915.7,944.4 915.9,947.2 916.1,952.2 916.3,952.7 916.5,952.2 916.7,954.9 916.9,951.6 917.1,949.9 917.3,948.2 917.5,940.5 917.7,939.2 917.9,934.8 918.1,927.0 918.3,920.2 918.5,919.2 918.7,916.2 918.9,922.8 919.1,928.0 919.3,934.4 919.5,940.8 919.7,945.8 919.9,949.9 920.1,952.3 920.3,952.7 920.5,955.1 920.7,955.8 920.9,957.0 921.1,958.8 921.3,956.1 921.5,957.3 921.7,958.5 921.9,957.4 922.1,959.1 922.3,956.8 922.5,956.5 922.7,955.5 922.9,958.9 923.1,958.7 923.3,960.0 923.5,959.8 923.7,958.1 923.9,959.5 924.1,959.3 924.3,959.2 924.5,956.7 924.8,957.9 925.0,959.8 925.2,959.0 925.4,956.8 925.6,957.4 925.8,957.9 926.0,957.9 926.2,958.6 926.4,958.2 926.6,957.3 926.8,957.5 927.0,959.8 927.2,960.1 927.4,957.4 927.6,957.5 927.8,959.1 928.0,957.2 928.2,959.2 928.4,959.2 928.6,958.8 928.8,955.9 929.0,960.0 929.2,957.8 929.4,957.1 929.6,956.6 929.8,957.4 930.0,958.5 930.2,959.2 930.4,958.7 930.6,957.2 930.8,957.9 931.0,959.8 931.2,957.4 931.4,959.2 931.6,957.3 931.8,955.8 932.0,954.4 932.2,957.9 932.4,958.6 932.6,959.9 932.8,956.8 933.0,957.7 933.2,957.9 933.4,959.6 933.6,958.3 933.8,956.3 934.0,956.5 934.2,957.5 934.4,957.6 934.6,959.6 934.8,955.6 935.0,957.5 935.2,957.5 935.4,956.6 935.6,956.7 935.8,956.6 936.0,959.3 936.2,956.4 936.4,957.7 936.6,957.9 936.8,954.9 937.0,956.0 937.2,955.4 937.4,958.5 937.6,955.9 937.8,958.7 938.0,960.3 938.2,956.8 938.4,956.9 938.6,956.9 938.8,955.0 939.0,956.6 939.2,955.0 939.4,954.9 939.6,954.2 939.8,952.4 940.0,948.8 940.2,947.5 940.4,943.8 940.6,943.0 940.8,943.7 941.0,946.1 941.2,950.2 941.4,951.2 941.6,951.7 941.8,953.4 942.0,955.9 942.2,953.9 942.4,958.5 942.6,954.0 942.8,958.1 943.0,955.6 943.2,957.5 943.4,955.4 943.6,955.1 943.8,956.6 944.0,958.1 944.2,959.1 944.4,958.7 944.7,957.1 944.9,956.1 945.1,957.5 945.3,958.0 945.5,956.5 945.7,957.5 945.9,957.5 946.1,957.9 946.3,959.9 946.5,959.0 946.7,955.8 946.9,958.0 947.1,956.8 947.3,960.3 947.5,958.5 947.7,956.7 947.9,958.8 948.1,957.7 948.3,957.0 948.5,958.4 948.7,960.3 948.9,957.8 949.1,957.8 949.3,959.1 949.5,955.9 949.7,957.8 949.9,958.4 950.1,955.4 950.3,957.5 950.5,959.0 950.7,956.5 950.9,956.4 951.1,957.0 951.3,958.6 951.5,957.4 951.7,958.9 951.9,955.8 952.1,956.9 952.3,957.9 952.5,957.8 952.7,956.1 952.9,956.7 953.1,958.1 953.3,957.6 953.5,957.2 953.7,959.1 953.9,959.1 954.1,958.3 954.3,956.3 954.5,957.4 954.7,958.1 954.9,958.4 955.1,958.2 955.3,956.4 955.5,957.3 955.7,956.3 955.9,958.9 956.1,958.6 956.3,958.5 956.5,958.3 956.7,954.9 956.9,955.1 957.1,959.5 957.3,956.2 957.5,960.4 957.7,957.6 957.9,957.7 958.1,958.3 958.3,955.3 958.5,958.3 958.7,956.0 958.9,958.8 959.1,957.1 959.3,955.5 959.5,955.4 959.7,955.1 959.9,956.6 960.1,958.2 960.3,959.5 960.5,957.3 960.7,956.6 960.9,957.7 961.1,958.0 961.3,955.2 961.5,958.8 961.7,957.6 961.9,958.7 962.1,958.8 962.3,956.8 962.5,954.5 962.7,957.6 962.9,956.2 963.1,957.2 963.3,956.9 963.5,957.4 963.7,957.3 963.9,957.0 964.1,957.7 964.3,958.9 964.5,956.4 964.8,956.3 965.0,959.1 965.2,958.4 965.4,959.5 965.6,960.1 965.8,960.0 966.0,957.8 966.2,961.2 966.4,959.0 966.6,956.2 966.8,959.9 967.0,959.4 967.2,959.0 967.4,958.0 967.6,955.0 967.8,958.6 968.0,957.8 968.2,958.2 968.4,958.3 968.6,958.1 968.8,959.1 969.0,958.2 969.2,957.5 969.4,960.3 969.6,958.9 969.8,959.1 970.0,957.7 970.2,960.5 970.4,956.9 970.6,957.9 970.8,958.2 971.0,959.3 971.2,958.3 971.4,957.6 971.6,959.4 971.8,958.1 972.0,960.5 972.2,959.6 972.4,962.4 972.6,959.3 972.8,961.3 973.0,958.2 973.2,957.1 973.4,959.8 973.6,958.8 973.8,956.4 974.0,959.6 974.2,959.7 974.4,957.9 974.6,957.6 974.8,956.8 975.0,958.9 975.2,958.2 975.4,958.9 975.6,958.0 975.8,959.6 976.0,957.7 976.2,957.5 976.4,958.7 976.6,959.3 976.8,958.7 977.0,959.1 977.2,959.3 977.4,959.6 977.6,960.8 977.8,959.6 978.0,962.0 978.2,958.2 978.4,959.3 978.6,958.6 978.8,958.7 979.0,960.1 979.2,958.7 979.4,959.1 979.6,958.3 979.8,957.5 980.0,958.4 980.2,958.3 980.4,956.9 980.6,960.3 980.8,956.6 981.0,957.3 981.2,955.4 981.4,955.1 981.6,953.9 981.8,948.0 982.0,946.5 982.2,944.1 982.4,940.5 982.6,938.4 982.8,935.6 983.0,937.1 983.2,936.6 983.4,938.7 983.6,942.2 983.8,948.0 984.0,944.8 984.2,949.4 984.4,950.6 984.6,954.9 984.9,957.6 985.1,954.7 985.3,956.5 985.5,955.1 985.7,958.1 985.9,959.0 986.1,954.9 986.3,956.1 986.5,958.5 986.7,960.7 986.9,957.2 987.1,954.7 987.3,956.5 987.5,954.7 987.7,956.0 987.9,957.0 988.1,954.2 988.3,959.5 988.5,956.7 988.7,954.2 988.9,956.9 989.1,956.7 989.3,956.3 989.5,955.3 989.7,953.2 989.9,954.0 990.1,953.2 990.3,951.3 990.5,949.7 990.7,949.4 990.9,945.5 991.1,943.7 991.3,935.4 991.5,935.4 991.7,928.3 991.9,924.4 992.1,921.8 992.3,921.8 992.5,925.6 992.7,932.2 992.9,935.9 993.1,943.8 993.3,945.7 993.5,947.0 993.7,949.0 993.9,952.0 994.1,954.0 994.3,955.3 994.5,958.2 994.7,954.8 994.9,956.3 995.1,956.4 995.3,958.9 995.5,957.2 995.7,958.1 995.9,958.4 996.1,953.8 996.3,956.5 996.5,957.4 996.7,958.5 996.9,953.5 997.1,955.9 997.3,954.8 997.5,952.6 997.7,951.8 997.9,950.1 998.1,944.9 998.3,941.5 998.5,942.2 998.7,941.2 998.9,939.2 999.1,940.5 999.3,941.4 999.5,943.9 999.7,942.7 999.9,946.9 1000.1,951.8 1000.3,951.3 1000.5,951.1 1000.7,954.8 1000.9,954.2 1001.1,955.0 1001.3,957.8 1001.5,956.6 1001.7,954.7 1001.9,959.1 1002.1,957.8 1002.3,958.9 1002.5,959.4 1002.7,958.5 1002.9,957.5 1003.1,958.2 1003.3,956.6 1003.5,957.8 1003.7,959.1 1003.9,957.1 1004.1,958.4 1004.3,960.0 1004.5,956.5 1004.7,959.4 1005.0,957.2 1005.2,957.0 1005.4,958.3 1005.6,956.1 1005.8,957.8 1006.0,955.0 1006.2,955.7 1006.4,954.3 1006.6,951.2 1006.8,950.3 1007.0,949.6 1007.2,945.7 1007.4,942.8 1007.6,936.6 1007.8,931.8 1008.0,927.7 1008.2,920.5 1008.4,914.6 1008.6,910.1 1008.8,907.5 1009.0,902.9 1009.2,905.0 1009.4,908.6 1009.6,910.2 1009.8,915.0 1010.0,921.7 1010.2,929.6 1010.4,932.2 1010.6,939.3 1010.8,941.0 1011.0,944.6 1011.2,948.0 1011.4,950.8 1011.6,950.7 1011.8,952.7 1012.0,952.9 1012.2,953.8 1012.4,956.4 1012.6,955.8 1012.8,955.5 1013.0,957.6 1013.2,956.7 1013.4,955.6 1013.6,956.6 1013.8,956.3 1014.0,957.5 1014.2,957.7 1014.4,957.6 1014.6,956.3 1014.8,957.2 1015.0,957.5 1015.2,954.8 1015.4,955.2 1015.6,958.9 1015.8,956.7 1016.0,957.0 1016.2,957.2 1016.4,958.1 1016.6,958.0 1016.8,958.2 1017.0,958.3 1017.2,958.8 1017.4,959.2 1017.6,956.4 1017.8,957.8 1018.0,957.3 1018.2,956.1 1018.4,959.2 1018.6,954.6 1018.8,951.7 1019.0,954.2 1019.2,950.8 1019.4,948.4 1019.6,945.6 1019.8,944.3 1020.0,940.9 1020.2,937.8 1020.4,935.0 1020.6,936.2 1020.8,932.6 1021.0,933.6 1021.2,936.2 1021.4,940.2 1021.6,945.7 1021.8,947.8 1022.0,950.3 1022.2,953.3 1022.4,953.2 1022.6,952.7 1022.8,956.3 1023.0,955.6 1023.2,955.8 1023.4,957.5 1023.6,956.3 1023.8,954.0 1024.0,957.7 1024.2,957.1 1024.4,959.4 1024.6,955.0 1024.8,958.1 1025.0,956.6 1025.3,955.7 1025.5,955.6 1025.7,957.3 1025.9,958.1 1026.1,958.9 1026.3,959.2 1026.5,957.8 1026.7,956.8 1026.9,956.5 1027.1,956.8 1027.3,958.6 1027.5,954.9 1027.7,955.6 1027.9,958.9 1028.1,957.2 1028.3,958.1 1028.5,957.9 1028.7,956.7 1028.9,956.2 1029.1,957.9 1029.3,956.5 1029.5,957.1 1029.7,955.0 1029.9,958.1 1030.1,957.3 1030.3,957.8 1030.5,959.1 1030.7,955.9 1030.9,957.2 1031.1,957.6 1031.3,958.2 1031.5,958.3 1031.7,958.5 1031.9,959.6 1032.1,958.8 1032.3,956.4 1032.5,958.2 1032.7,959.8 1032.9,959.4 1033.1,959.5 1033.3,958.2 1033.5,958.4 1033.7,957.6 1033.9,955.6 1034.1,958.5 1034.3,957.1 1034.5,956.7 1034.7,954.5 1034.9,957.3 1035.1,957.1 1035.3,960.0 1035.5,958.8 1035.7,954.8 1035.9,958.2 1036.1,954.5 1036.3,954.9 1036.5,955.4 1036.7,955.5 1036.9,957.1 1037.1,955.0 1037.3,955.5 1037.5,954.1 1037.7,955.2 1037.9,953.8 1038.1,953.2 1038.3,953.0 1038.5,953.2 1038.7,950.4 1038.9,952.4 1039.1,953.5 1039.3,954.3 1039.5,956.8 1039.7,953.9 1039.9,957.5 1040.1,956.4 1040.3,955.5 1040.5,958.3 1040.7,955.0 1040.9,958.6 1041.1,956.4 1041.3,956.4 1041.5,957.8 1041.7,957.7 1041.9,956.1 1042.1,955.1 1042.3,958.1 1042.5,956.7 1042.7,958.7 1042.9,959.6 1043.1,955.9 1043.3,956.3 1043.5,955.9 1043.7,957.0 1043.9,953.8 1044.1,958.7 1044.3,955.9 1044.5,957.0 1044.7,956.2 1044.9,956.3 1045.2,954.9 1045.4,950.6 1045.6,951.3 1045.8,948.3 1046.0,945.2 1046.2,943.6 1046.4,936.4 1046.6,935.7 1046.8,931.0 1047.0,931.5 1047.2,934.1 1047.4,940.7 1047.6,944.4 1047.8,948.4 1048.0,948.1 1048.2,952.0 1048.4,956.3 1048.6,955.4 1048.8,957.9 1049.0,957.4 1049.2,956.6 1049.4,957.9 1049.6,955.7 1049.8,957.4 1050.0,956.1 1050.2,958.5 1050.4,958.8 1050.6,958.3 1050.8,957.9 1051.0,959.5 1051.2,955.6 1051.4,960.0 1051.6,957.3 1051.8,959.5 1052.0,959.5 1052.2,956.9 1052.4,958.6 1052.6,958.9 1052.8,957.7 1053.0,956.9 1053.2,958.4 1053.4,956.6 1053.6,957.9 1053.8,956.4 1054.0,956.9 1054.2,956.9 1054.4,957.8 1054.6,954.7 1054.8,957.0 1055.0,959.8 1055.2,957.4 1055.4,959.6 1055.6,959.0 1055.8,959.4 1056.0,956.3 1056.2,958.9 1056.4,959.5 1056.6,959.1 1056.8,960.1 1057.0,956.3 1057.2,957.8 1057.4,957.8 1057.6,960.5 1057.8,957.5 1058.0,957.9 1058.2,961.7 1058.4,960.6 1058.6,960.3 1058.8,959.5 1059.0,957.6 1059.2,959.8 1059.4,956.0 1059.6,959.0 1059.8,961.4 1060.0,957.8 1060.2,957.9 1060.4,958.8 1060.6,960.4 1060.8,958.0 1061.0,956.5 1061.2,961.4 1061.4,957.1 1061.6,960.3 1061.8,960.1 1062.0,960.8 1062.2,960.8 1062.4,956.8 1062.6,960.1 1062.8,957.8 1063.0,960.1 1063.2,957.6 1063.4,957.9 1063.6,962.0 1063.8,959.8 1064.0,959.0 1064.2,959.4 1064.4,958.0 1064.6,957.0 1064.8,957.1 1065.0,958.6 1065.2,956.6 1065.5,956.3 1065.7,957.6 1065.9,954.9 1066.1,953.6 1066.3,952.8 1066.5,956.2 1066.7,953.2 1066.9,952.4 1067.1,951.8 1067.3,953.1 1067.5,951.9 1067.7,951.2 1067.9,948.4 1068.1,951.2 1068.3,951.8 1068.5,952.2 1068.7,952.9 1068.9,953.4 1069.1,956.2 1069.3,954.7 1069.5,955.4 1069.7,954.3 1069.9,957.1 1070.1,955.1 1070.3,956.3 1070.5,958.5 1070.7,957.9 1070.9,958.2 1071.1,959.4 1071.3,956.9 1071.5,956.7 1071.7,958.9 1071.9,955.8 1072.1,955.3 1072.3,956.9 1072.5,956.5 1072.7,954.8 1072.9,958.4 1073.1,956.6 1073.3,954.9 1073.5,956.6 1073.7,958.3 1073.9,957.0 1074.1,956.8 1074.3,958.0 1074.5,956.2 1074.7,956.3 1074.9,959.8 1075.1,956.4 1075.3,957.2 1075.5,957.8 1075.7,954.7 1075.9,952.4 1076.1,953.4 1076.3,954.7 1076.5,951.8 1076.7,952.0 1076.9,949.5 1077.1,951.6 1077.3,949.4 1077.5,948.6 1077.7,950.6 1077.9,949.3 1078.1,950.5 1078.3,951.7 1078.5,954.8 1078.7,953.9 1078.9,955.2 1079.1,955.3 1079.3,958.1 1079.5,954.6 1079.7,958.4 1079.9,954.7 1080.1,957.5 1080.3,953.4 1080.5,956.1 1080.7,959.9 1080.9,959.3 1081.1,957.5 1081.3,957.7 1081.5,957.2 1081.7,954.2 1081.9,955.3 1082.1,957.9 1082.3,957.5 1082.5,956.8 1082.7,957.7 1082.9,957.1 1083.1,954.4 1083.3,955.2 1083.5,955.0 1083.7,958.1 1083.9,955.8 1084.1,957.1 1084.3,956.6 1084.5,958.2 1084.7,956.6 1084.9,957.3 1085.1,956.9 1085.3,957.4 1085.6,959.1 1085.8,956.8 1086.0,957.9 1086.2,956.9 1086.4,957.2 1086.6,956.6 1086.8,959.7 1087.0,957.5 1087.2,956.3 1087.4,957.9 1087.6,959.8 1087.8,957.5 1088.0,956.9 1088.2,958.9 1088.4,957.4 1088.6,956.1 1088.8,959.5 1089.0,959.1 1089.2,957.3 1089.4,955.7 1089.6,957.2 1089.8,953.2 1090.0,950.3 1090.2,951.6 1090.4,950.1 1090.6,949.2 1090.8,948.1 1091.0,947.8 1091.2,947.4 1091.4,949.4 1091.6,946.9 1091.8,944.9 1092.0,946.9 1092.2,949.8 1092.4,947.1 1092.6,953.0 1092.8,952.9 1093.0,950.5 1093.2,951.3 1093.4,952.8 1093.6,954.8 1093.8,955.8 1094.0,957.1 1094.2,955.4 1094.4,960.8 1094.6,957.1 1094.8,954.9 1095.0,957.7 1095.2,961.9 1095.4,956.6 1095.6,960.0 1095.8,960.4 1096.0,957.1 1096.2,957.5 1096.4,956.8 1096.6,958.0 1096.8,958.9 1097.0,959.3 1097.2,957.6 1097.4,958.0 1097.6,957.6 1097.8,956.9 1098.0,958.1 1098.2,955.5 1098.4,957.2 1098.6,956.5 1098.8,959.2 1099.0,958.5 1099.2,958.3 1099.4,958.0 1099.6,958.5 1099.8,959.4 1100.0,958.5 1100.2,957.4 1100.4,957.9 1100.6,959.1 1100.8,958.4 1101.0,957.1 1101.2,957.6 1101.4,959.0 1101.6,957.1 1101.8,957.0 1102.0,954.4 1102.2,955.5 1102.4,955.2 1102.6,955.7 1102.8,957.2 1103.0,954.8 1103.2,955.9 1103.4,958.2 1103.6,956.3 1103.8,956.5 1104.0,958.7 1104.2,957.8 1104.4,959.9 1104.6,957.3 1104.8,957.5 1105.0,957.5 1105.2,957.6 1105.5,958.0 1105.7,956.6 1105.9,957.6 1106.1,956.9 1106.3,958.5 1106.5,957.3 1106.7,959.5 1106.9,960.0 1107.1,957.9 1107.3,957.8 1107.5,956.4 1107.7,957.8 1107.9,956.5 1108.1,957.6 1108.3,957.4 1108.5,956.7 1108.7,955.1 1108.9,956.5 1109.1,957.0 1109.3,956.7 1109.5,958.3 1109.7,956.5 1109.9,958.4 1110.1,955.0 1110.3,957.9 1110.5,954.4 1110.7,956.5 1110.9,956.3 1111.1,955.3 1111.3,952.4 1111.5,953.8 1111.7,952.3 1111.9,951.6 1112.1,948.8 1112.3,952.0 1112.5,948.7 1112.7,948.7 1112.9,947.5 1113.1,950.2 1113.3,951.1 1113.5,952.9 1113.7,953.8 1113.9,953.7 1114.1,950.8 1114.3,953.6 1114.5,953.5 1114.7,954.8 1114.9,952.4 1115.1,953.8 1115.3,951.5 1115.5,953.0 1115.7,950.1 1115.9,946.8 1116.1,947.3 1116.3,947.7 1116.5,947.9 1116.7,947.6 1116.9,950.7 1117.1,950.1 1117.3,955.5 1117.5,954.5 1117.7,955.6 1117.9,954.5 1118.1,955.9 1118.3,955.4 1118.5,957.0 1118.7,956.1 1118.9,958.8 1119.1,958.4 1119.3,956.4 1119.5,958.7 1119.7,959.9 1119.9,957.3 1120.1,955.4 1120.3,957.3 1120.5,958.0 1120.7,955.7 1120.9,957.6 1121.1,956.1 1121.3,958.3 1121.5,959.6 1121.7,957.2 1121.9,959.3 1122.1,958.2 1122.3,957.8 1122.5,955.7 1122.7,957.3 1122.9,955.6 1123.1,958.0 1123.3,958.7 1123.5,959.5 1123.7,956.8 1123.9,956.4 1124.1,957.2 1124.3,956.7 1124.5,956.4 1124.7,957.6 1124.9,955.5 1125.1,956.9 1125.3,957.1 1125.5,957.8 1125.8,954.6 1126.0,959.3 1126.2,957.9 1126.4,959.3 1126.6,952.8 1126.8,952.9 1127.0,954.0 1127.2,952.9 1127.4,949.5 1127.6,947.0 1127.8,946.8 1128.0,944.8 1128.2,943.0 1128.4,945.7 1128.6,945.2 1128.8,949.0 1129.0,948.3 1129.2,951.9 1129.4,951.8 1129.6,953.1 1129.8,955.2 1130.0,955.7 1130.2,955.8 1130.4,958.3 1130.6,954.7 1130.8,958.5 1131.0,957.4 1131.2,958.1 1131.4,957.0 1131.6,958.6 1131.8,958.4 1132.0,959.7 1132.2,956.2 1132.4,955.2 1132.6,959.3 1132.8,956.5 1133.0,958.7 1133.2,956.5 1133.4,957.6 1133.6,958.1 1133.8,956.0 1134.0,958.2 1134.2,957.0 1134.4,956.3 1134.6,959.2 1134.8,959.8 1135.0,956.7 1135.2,958.7 1135.4,956.9 1135.6,960.1 1135.8,960.9 1136.0,958.6 1136.2,955.4 1136.4,956.3 1136.6,956.4 1136.8,956.5 1137.0,956.8 1137.2,955.2 1137.4,953.6 1137.6,954.6 1137.8,955.6 1138.0,954.1 1138.2,952.3 1138.4,952.7 1138.6,953.7 1138.8,951.9 1139.0,956.0 1139.2,953.3 1139.4,955.9 1139.6,955.5 1139.8,955.3 1140.0,955.9 1140.2,956.6 1140.4,955.3 1140.6,957.6 1140.8,955.8 1141.0,958.3 1141.2,956.2 1141.4,954.7 1141.6,956.2 1141.8,957.4 1142.0,956.3 1142.2,955.2 1142.4,957.3 1142.6,954.5 1142.8,956.2 1143.0,956.0 1143.2,956.8 1143.4,954.5 1143.6,958.3 1143.8,956.4 1144.0,957.8 1144.2,957.0 1144.4,958.2 1144.6,954.1 1144.8,955.5 1145.0,956.3 1145.2,955.7 1145.4,957.2 1145.7,958.0 1145.9,955.0 1146.1,956.3 1146.3,956.2 1146.5,958.6 1146.7,956.8 1146.9,959.1 1147.1,957.5 1147.3,959.1 1147.5,955.8 1147.7,956.3 1147.9,956.9 1148.1,954.3 1148.3,956.5 1148.5,958.8 1148.7,954.3 1148.9,961.0 1149.1,959.5 1149.3,958.1 1149.5,958.4 1149.7,957.9 1149.9,957.8 1150.1,958.5 1150.3,959.4 1150.5,957.7 1150.7,957.8 1150.9,958.8 1151.1,955.9 1151.3,957.4 1151.5,955.2 1151.7,959.8 1151.9,955.9 1152.1,956.5 1152.3,956.9 1152.5,958.1 1152.7,956.9 1152.9,958.1 1153.1,957.0 1153.3,960.4 1153.5,955.6 1153.7,958.1 1153.9,958.3 1154.1,954.6 1154.3,957.5 1154.5,958.9 1154.7,957.9 1154.9,956.7 1155.1,958.9 1155.3,957.2 1155.5,958.4 1155.7,955.4 1155.9,956.8 1156.1,956.6 1156.3,957.2 1156.5,958.0 1156.7,958.7 1156.9,955.1 1157.1,957.9 1157.3,959.2 1157.5,955.8 1157.7,959.2 1157.9,954.7 1158.1,953.7 1158.3,953.6 1158.5,955.1 1158.7,951.9 1158.9,954.0 1159.1,954.6 1159.3,954.4 1159.5,956.2 1159.7,951.5 1159.9,953.8 1160.1,954.8 1160.3,956.7 1160.5,955.7 1160.7,956.2 1160.9,958.2 1161.1,956.1 1161.3,956.1 1161.5,956.8 1161.7,957.7 1161.9,957.8 1162.1,960.2 1162.3,957.0 1162.5,958.3 1162.7,960.4 1162.9,956.8 1163.1,960.8 1163.3,960.7 1163.5,956.1 1163.7,958.8 1163.9,958.9 1164.1,958.0 1164.3,960.1 1164.5,956.7 1164.7,961.8 1164.9,956.2 1165.1,957.1 1165.3,956.4 1165.5,958.1 1165.8,955.9 1166.0,955.5 1166.2,953.9 1166.4,953.0 1166.6,952.6 1166.8,953.2 1167.0,952.4 1167.2,952.3 1167.4,950.9 1167.6,954.9 1167.8,951.4 1168.0,952.4 1168.2,955.2 1168.4,952.4 1168.6,955.5 1168.8,957.8 1169.0,955.3 1169.2,957.8 1169.4,957.3 1169.6,959.0 1169.8,961.8 1170.0,957.6 1170.2,960.4 1170.4,959.9 1170.6,956.3 1170.8,959.6 1171.0,958.6 1171.2,960.3 1171.4,958.5 1171.6,958.7 1171.8,957.0 1172.0,957.9 1172.2,959.8 1172.4,958.9 1172.6,958.0 1172.8,960.2 1173.0,958.3 1173.2,957.2 1173.4,959.8 1173.6,957.5 1173.8,957.7 1174.0,959.2 1174.2,958.0 1174.4,958.1 1174.6,958.3 1174.8,960.8 1175.0,960.0 1175.2,959.6 1175.4,956.6 1175.6,958.0 1175.8,961.0 1176.0,958.0 1176.2,959.8 1176.4,960.7 1176.6,958.4 1176.8,958.3 1177.0,960.3 1177.2,957.9 1177.4,956.6 1177.6,961.6 1177.8,955.9 1178.0,958.4 1178.2,957.9 1178.4,959.0 1178.6,959.1 1178.8,957.5 1179.0,956.6 1179.2,957.6 1179.4,958.5 1179.6,957.6 1179.8,959.3 1180.0,959.7 1180.2,957.3 1180.4,959.1 1180.6,958.8 1180.8,957.2 1181.0,956.7 1181.2,957.7 1181.4,959.3 1181.6,957.3 1181.8,956.6 1182.0,958.8 1182.2,956.4 1182.4,958.7 1182.6,958.7 1182.8,957.3 1183.0,959.1 1183.2,960.1 1183.4,957.5 1183.6,955.5 1183.8,955.7 1184.0,955.2 1184.2,957.5 1184.4,957.7 1184.6,958.2 1184.8,955.2 1185.0,958.7 1185.2,958.3 1185.4,957.7 1185.6,958.1 1185.9,956.8 1186.1,958.4 1186.3,958.3 1186.5,959.2 1186.7,956.2 1186.9,958.0 1187.1,957.9 1187.3,955.0 1187.5,958.1 1187.7,955.7 1187.9,958.2 1188.1,955.4 1188.3,954.2 1188.5,955.6 1188.7,955.9 1188.9,955.0 1189.1,953.8 1189.3,953.6 1189.5,953.2 1189.7,948.9 1189.9,950.0 1190.1,947.8 1190.3,948.7 1190.5,947.8 1190.7,950.1 1190.9,945.6 1191.1,947.8 1191.3,949.7 1191.5,948.2 1191.7,949.9 1191.9,951.9 1192.1,953.0 1192.3,953.2 1192.5,954.3 1192.7,954.0 1192.9,955.6 1193.1,956.0 1193.3,953.2 1193.5,957.2 1193.7,956.6 1193.9,955.7 1194.1,956.8 1194.3,954.4 1194.5,956.9 1194.7,955.9 1194.9,956.6 1195.1,955.7 1195.3,958.1 1195.5,957.9 1195.7,958.2 1195.9,957.9 1196.1,955.4 1196.3,957.0 1196.5,957.2 1196.7,956.6 1196.9,956.0 1197.1,958.2 1197.3,957.4 1197.5,954.6 1197.7,958.5 1197.9,958.6 1198.1,955.9 1198.3,954.1 1198.5,953.8 1198.7,957.4 1198.9,957.9 1199.1,957.7 1199.3,959.3 1199.5,960.6 1199.7,957.6 1199.9,957.6 1200.1,956.9 1200.3,957.4 1200.5,957.3 1200.7,956.2 1200.9,959.3 1201.1,957.7 1201.3,955.4 1201.5,955.5 1201.7,954.6 1201.9,957.7 1202.1,957.7 1202.3,957.9 1202.5,960.6 1202.7,955.6 1202.9,956.3 1203.1,955.8 1203.3,958.0 1203.5,956.6 1203.7,957.3 1203.9,958.4 1204.1,954.8 1204.3,956.3 1204.5,956.4 1204.7,958.6 1204.9,955.9 1205.1,958.2 1205.3,956.8 1205.5,957.6 1205.7,957.3 1206.0,958.8 1206.2,958.6 1206.4,956.7 1206.6,956.9 1206.8,958.6 1207.0,960.1 1207.2,957.6 1207.4,958.7 1207.6,957.3 1207.8,957.1 1208.0,956.4 1208.2,957.1 1208.4,958.3 1208.6,957.2 1208.8,956.9 1209.0,959.0 1209.2,957.6 1209.4,957.6 1209.6,959.3 1209.8,956.0 1210.0,956.8 1210.2,956.9 1210.4,959.6 1210.6,957.6 1210.8,958.9 1211.0,958.2 1211.2,957.8 1211.4,956.3 1211.6,957.1 1211.8,961.9 1212.0,957.0 1212.2,958.8 1212.4,957.0 1212.6,957.9 1212.8,957.3 1213.0,957.8 1213.2,956.5 1213.4,957.5 1213.6,959.0 1213.8,958.6 1214.0,958.2 1214.2,957.2 1214.4,957.3 1214.6,959.4 1214.8,959.5 1215.0,956.8 1215.2,957.9 1215.4,956.8 1215.6,958.4 1215.8,955.5 1216.0,955.6 1216.2,953.3 1216.4,956.7 1216.6,955.0 1216.8,957.1 1217.0,952.8 1217.2,955.4 1217.4,953.1 1217.6,954.0 1217.8,951.6 1218.0,953.3 1218.2,953.9 1218.4,953.5 1218.6,952.0 1218.8,951.9 1219.0,949.7 1219.2,951.5 1219.4,950.9 1219.6,953.0 1219.8,951.3 1220.0,953.6 1220.2,954.7 1220.4,954.8 1220.6,957.0 1220.8,956.9 1221.0,952.5 1221.2,956.2 1221.4,955.1 1221.6,959.2 1221.8,957.1 1222.0,956.0 1222.2,956.8 1222.4,956.3 1222.6,959.0 1222.8,955.8 1223.0,960.1 1223.2,960.2 1223.4,958.2 1223.6,958.4 1223.8,958.9 1224.0,961.8 1224.2,959.6 1224.4,958.1 1224.6,960.7 1224.8,958.6 1225.0,957.2 1225.2,961.6 1225.4,960.8 1225.6,958.2 1225.8,955.5 1226.1,958.1 1226.3,955.9 1226.5,959.7 1226.7,960.8 1226.9,958.2 1227.1,959.8 1227.3,956.2 1227.5,957.9 1227.7,959.1 1227.9,958.1 1228.1,958.2 1228.3,956.8 1228.5,956.8 1228.7,959.3 1228.9,958.1 1229.1,959.2 1229.3,955.8 1229.5,958.8 1229.7,959.3 1229.9,958.1 1230.1,956.8 1230.3,959.6 1230.5,957.9 1230.7,957.3 1230.9,956.6 1231.1,955.8 1231.3,955.7 1231.5,956.5 1231.7,958.1 1231.9,960.6 1232.1,955.9 1232.3,958.2 1232.5,958.1 1232.7,956.6 1232.9,960.9 1233.1,958.9 1233.3,959.0 1233.5,956.1 1233.7,957.3 1233.9,957.8 1234.1,958.4 1234.3,958.0 1234.5,957.3 1234.7,958.4 1234.9,959.7 1235.1,957.9 1235.3,957.9 1235.5,955.8 1235.7,954.7 1235.9,956.2 1236.1,958.1 1236.3,956.0 1236.5,956.4 1236.7,954.2 1236.9,955.5 1237.1,952.9 1237.3,954.0 1237.5,955.3 1237.7,954.7 1237.9,957.2 1238.1,955.5 1238.3,953.8 1238.5,956.1 1238.7,955.7 1238.9,957.3 1239.1,957.9 1239.3,959.1 1239.5,957.9 1239.7,956.4 1239.9,959.3 1240.1,959.0 1240.3,959.2 1240.5,958.9 1240.7,959.2 1240.9,959.0 1241.1,958.3 1241.3,960.7 1241.5,961.0 1241.7,959.9 1241.9,958.9 1242.1,960.9 1242.3,959.0 1242.5,960.1 1242.7,960.2 1242.9,959.9 1243.1,960.6 1243.3,960.2 1243.5,959.7 1243.7,960.3 1243.9,958.2 1244.1,957.9 1244.3,960.4 1244.5,959.4 1244.7,959.3 1244.9,958.2 1245.1,958.1 1245.3,958.9 1245.5,957.3 1245.7,955.4 1245.9,959.6 1246.2,957.9 1246.4,958.9 1246.6,958.6 1246.8,958.5 1247.0,955.5 1247.2,958.1 1247.4,958.0 1247.6,958.9 1247.8,958.9 1248.0,954.2 1248.2,955.2 1248.4,958.3 1248.6,958.7 1248.8,956.5 1249.0,957.7 1249.2,957.7 1249.4,956.9 1249.6,960.1 1249.8,956.7 1250.0,955.8 1250.2,958.9 1250.4,957.9 1250.6,958.4 1250.8,958.1 1251.0,955.8 1251.2,956.1 1251.4,957.4 1251.6,959.3 1251.8,957.0 1252.0,956.8 1252.2,957.9 1252.4,955.4 1252.6,958.7 1252.8,958.7 1253.0,959.3 1253.2,959.8 1253.4,960.3 1253.6,957.6 1253.8,958.5 1254.0,957.2 1254.2,958.2 1254.4,955.4 1254.6,957.7 1254.8,956.4 1255.0,956.6 1255.2,958.5 1255.4,958.6 1255.6,957.8 1255.8,957.7 1256.0,959.8 1256.2,958.4" fill="none" stroke="#ff0000" stroke-width="2.5" stroke-linejoin="round" stroke-linecap="round"/>
</g>
<text x="1158.6" y="686.3" font-size="21.3" text-anchor="start" fill="#0000ff" >After</text>
<text x="1155.6" y="938.6" font-size="21.4" text-anchor="start" fill="#ff0000" >Before</text>
<rect x="693.4" y="556.7" width="562.8" height="413.8" fill="none" stroke="#000" stroke-width="2.8"/>
<text x="839.3" y="1041.5" font-size="35.25" text-anchor="start" fill="#000" >2 Theta (degree)</text>
<text x="983.8" y="1081.8" font-size="46" text-anchor="middle" fill="#000" >(d)</text>
<text transform="translate(678.3 872.6) rotate(-90) scale(1.0 1)" font-size="34.95" fill="#000" >Intensity (a.u.)</text>
</svg>
</body></html>
